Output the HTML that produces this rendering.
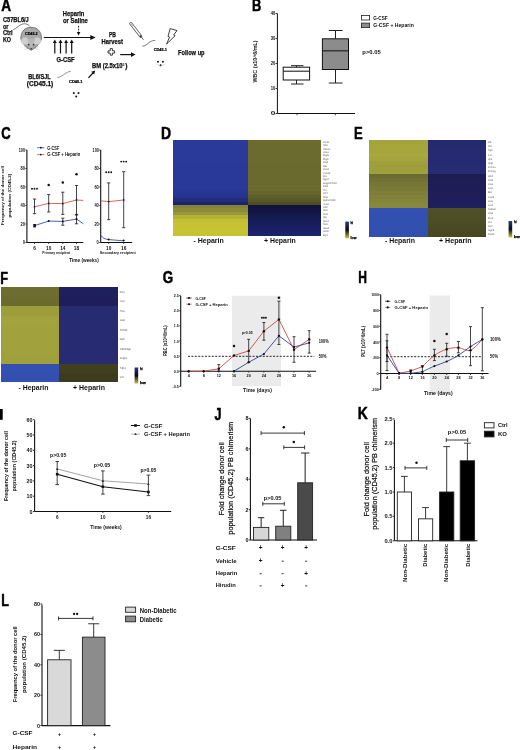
<!DOCTYPE html>
<html><head><meta charset="utf-8"><style>
html,body{margin:0;padding:0;background:#fff;}
svg{display:block;font-family:"Liberation Sans", sans-serif;will-change:transform;}
</style></head><body>
<svg width="520" height="750" viewBox="0 0 520 750" font-family='"Liberation Sans", sans-serif' fill="#111">
<rect width="520" height="750" fill="#fff"/>
<text x="1.15" y="11.4" font-size="16" font-weight="bold" textLength="9.8" lengthAdjust="spacingAndGlyphs" stroke="#000" stroke-width="0.5" fill="#000">A</text>
<text x="2.9" y="22.1" font-size="6.6" font-weight="bold" textLength="25.9" lengthAdjust="spacingAndGlyphs" stroke="#111" stroke-width="0.25">C57BL6/J</text>
<text x="2.9" y="28.6" font-size="6.6" font-weight="bold" textLength="5.6" lengthAdjust="spacingAndGlyphs" stroke="#111" stroke-width="0.25">or</text>
<text x="2.9" y="35.2" font-size="6.6" font-weight="bold" textLength="9.8" lengthAdjust="spacingAndGlyphs" stroke="#111" stroke-width="0.25">Ctrl</text>
<text x="2.9" y="41.7" font-size="6.6" font-weight="bold" textLength="8.1" lengthAdjust="spacingAndGlyphs" stroke="#111" stroke-width="0.25">KO</text>
<path d="M13.2,29.6 C16,29 18,26 21,24.6 C24,23.2 27.5,23.5 30,26.5" fill="none" stroke="#444" stroke-width="0.7"/>
<path d="M31,27.3 C37.5,27.3 41.3,31.5 41.5,38 C41.5,42.5 36,47.5 31.2,50.3 C26.2,47.5 20.8,42.5 20.8,38 C21,31.5 24.8,27.3 31,27.3 Z" fill="#a9a9a9" stroke="#555" stroke-width="0.7"/>
<ellipse cx="25" cy="41" rx="3.8" ry="3.6" fill="#cfcfcf"/>
<ellipse cx="37.2" cy="41" rx="3.8" ry="3.6" fill="#cfcfcf"/>
<path d="M27,39 L31.2,48 L35.4,39 Z" fill="#b8b8b8"/>
<circle cx="28.80" cy="44.80" r="0.8" fill="#222"/>
<circle cx="33.60" cy="44.80" r="0.8" fill="#222"/>
<circle cx="31.20" cy="48.80" r="0.8" fill="#222"/>
<line x1="28" y1="47.5" x2="24" y2="46.6" stroke="#666" stroke-width="0.3"/>
<line x1="28" y1="48" x2="24.5" y2="49.5" stroke="#666" stroke-width="0.3"/>
<line x1="34.5" y1="47.5" x2="38.5" y2="46.6" stroke="#666" stroke-width="0.3"/>
<line x1="34.5" y1="48" x2="38" y2="49.5" stroke="#666" stroke-width="0.3"/>
<text x="31.3" y="35.1" font-size="4.0" font-weight="bold" text-anchor="middle" textLength="12.6" lengthAdjust="spacingAndGlyphs" fill="#000" stroke="#000" stroke-width="0.2">CD45.2</text>
<line x1="43.8" y1="37.5" x2="92" y2="37.5" stroke="#111" stroke-width="1.2"/>
<path d="M90.3,34.9 L95.6,37.5 L90.3,40.1 Z" fill="#111"/>
<text x="62.8" y="16.4" font-size="6.6" font-weight="bold" textLength="21.6" lengthAdjust="spacingAndGlyphs" stroke="#111" stroke-width="0.25">Heparin</text>
<text x="63.0" y="23.4" font-size="6.6" font-weight="bold" textLength="24.9" lengthAdjust="spacingAndGlyphs" stroke="#111" stroke-width="0.25">or Saline</text>
<line x1="78.6" y1="25.8" x2="78.6" y2="32.4" stroke="#111" stroke-width="0.9" stroke-dasharray="1.8,1.1"/>
<path d="M76.8,32.0 L78.6,35.6 L80.4,32.0 Z" fill="#111"/>
<line x1="54.8" y1="42" x2="54.8" y2="53.5" stroke="#111" stroke-width="1.2"/>
<path d="M52.8,43.0 L54.8,39.5 L56.8,43.0 Z" fill="#111"/>
<line x1="60.5" y1="42" x2="60.5" y2="53.5" stroke="#111" stroke-width="1.2"/>
<path d="M58.5,43.0 L60.5,39.5 L62.5,43.0 Z" fill="#111"/>
<line x1="66.1" y1="42" x2="66.1" y2="53.5" stroke="#111" stroke-width="1.2"/>
<path d="M64.1,43.0 L66.1,39.5 L68.1,43.0 Z" fill="#111"/>
<line x1="71.7" y1="42" x2="71.7" y2="53.5" stroke="#111" stroke-width="1.2"/>
<path d="M69.7,43.0 L71.7,39.5 L73.7,43.0 Z" fill="#111"/>
<text x="56.5" y="61.8" font-size="6.6" font-weight="bold" textLength="18.1" lengthAdjust="spacingAndGlyphs" stroke="#111" stroke-width="0.25">G-CSF</text>
<text x="28.3" y="79.0" font-size="6.6" font-weight="bold" textLength="22.4" lengthAdjust="spacingAndGlyphs" stroke="#111" stroke-width="0.25">BL6/SJL</text>
<text x="26.8" y="85.9" font-size="6.6" font-weight="bold" textLength="26.5" lengthAdjust="spacingAndGlyphs" stroke="#111" stroke-width="0.25">(CD45.1)</text>
<path d="M57.3,77.6 C60,77.5 63,75 66,73 C68,71.8 69.5,71.5 70.8,71.5" fill="none" stroke="#888" stroke-width="0.9"/>
<text x="75.8" y="82.5" font-size="4.0" font-weight="bold" text-anchor="middle" textLength="13.6" lengthAdjust="spacingAndGlyphs" fill="#000" stroke="#000" stroke-width="0.2">CD45.1</text>
<circle cx="73.80" cy="93.10" r="1.05" fill="#222"/>
<circle cx="78.50" cy="93.10" r="1.05" fill="#222"/>
<circle cx="76.20" cy="96.50" r="1.0" fill="#111"/>
<line x1="88.4" y1="77.8" x2="93.0" y2="73.0" stroke="#111" stroke-width="1.2"/>
<path d="M91.2,71.7 L95.2,70.6 L94.2,74.6 Z" fill="#111"/>
<text x="109.0" y="36.6" font-size="6.6" font-weight="bold" textLength="7.0" lengthAdjust="spacingAndGlyphs" stroke="#111" stroke-width="0.25">PB</text>
<text x="101.5" y="43.6" font-size="6.6" font-weight="bold" textLength="21.4" lengthAdjust="spacingAndGlyphs" stroke="#111" stroke-width="0.25">Harvest</text>
<path d="M110.2,48.6 h2.2 v2.2 h2.2 v2.2 h-2.2 v2.2 h-2.2 v-2.2 h-2.2 v-2.2 h2.2 Z" fill="#fff" stroke="#111" stroke-width="0.8"/>
<line x1="120.2" y1="54.6" x2="132.5" y2="54.6" stroke="#111" stroke-width="1.2"/>
<path d="M131.0,52.3 L135.6,54.6 L131.0,56.9 Z" fill="#111"/>
<text x="92.0" y="68.3" font-size="6.6" font-weight="bold" textLength="30.5" lengthAdjust="spacingAndGlyphs" stroke="#111" stroke-width="0.25">BM (2.5x10</text>
<text x="122.6" y="65.6" font-size="3.6" font-weight="bold">5</text>
<text x="125.2" y="68.3" font-size="6.6" font-weight="bold" stroke="#111" stroke-width="0.25">)</text>
<line x1="130.8" y1="23.5" x2="140.8" y2="36.3" stroke="#555" stroke-width="3.0" stroke-linecap="round"/>
<line x1="130.8" y1="23.5" x2="140.8" y2="36.3" stroke="#f6f6f6" stroke-width="1.6" stroke-linecap="round"/>
<line x1="131.0" y1="23.6" x2="132.8" y2="26.0" stroke="#bbb" stroke-width="1.6"/>
<line x1="140.4" y1="35.8" x2="143.5" y2="39.8" stroke="#333" stroke-width="0.7"/>
<circle cx="140.60" cy="36.10" r="0.9" fill="#222"/>
<path d="M142.3,46.2 C145,46.5 147,44 149.5,42.3 C151.5,41 153.5,40.3 155.2,40.4" fill="none" stroke="#555" stroke-width="0.8"/>
<text x="160.3" y="51.1" font-size="4.0" font-weight="bold" text-anchor="middle" textLength="13.3" lengthAdjust="spacingAndGlyphs" fill="#000" stroke="#000" stroke-width="0.2">CD45.1</text>
<circle cx="158.00" cy="61.70" r="1.05" fill="#222"/>
<circle cx="162.90" cy="61.70" r="1.05" fill="#222"/>
<circle cx="160.60" cy="65.20" r="1.0" fill="#111"/>
<path d="M156,63.5 C157.5,64.7 159,65.6 160.6,65.8 C162.3,65.6 163.8,64.7 165.2,63.5" fill="none" stroke="#aaa" stroke-width="0.4"/>
<path d="M170.2,28.6 L177.0,30.6 L173.6,35.0 L175.2,35.6 L166.6,44.0 L169.6,37.0 L168.0,36.4 Z" fill="#fff" stroke="#111" stroke-width="0.8" stroke-linejoin="miter"/>
<text x="178.0" y="54.9" font-size="7.0" font-weight="bold" textLength="26.6" lengthAdjust="spacingAndGlyphs" stroke="#111" stroke-width="0.25">Follow up</text>
<text x="252.0" y="11.2" font-size="16" font-weight="bold" textLength="9.3" lengthAdjust="spacingAndGlyphs" stroke="#000" stroke-width="0.5" fill="#000">B</text>
<line x1="277.4" y1="13.5" x2="277.4" y2="113.5" stroke="#111" stroke-width="1.0"/>
<line x1="277.4" y1="113.5" x2="355" y2="113.5" stroke="#111" stroke-width="1.0"/>
<line x1="275.59999999999997" y1="113.5" x2="277.4" y2="113.5" stroke="#222" stroke-width="0.9"/>
<text x="275.4" y="115.2" font-size="4.8" font-weight="bold" text-anchor="end" textLength="4.6" lengthAdjust="spacingAndGlyphs">0</text>
<line x1="275.59999999999997" y1="88.5" x2="277.4" y2="88.5" stroke="#222" stroke-width="0.9"/>
<text x="275.4" y="90.2" font-size="4.8" font-weight="bold" text-anchor="end" textLength="4.6" lengthAdjust="spacingAndGlyphs">10</text>
<line x1="275.59999999999997" y1="63.5" x2="277.4" y2="63.5" stroke="#222" stroke-width="0.9"/>
<text x="275.4" y="65.2" font-size="4.8" font-weight="bold" text-anchor="end" textLength="4.6" lengthAdjust="spacingAndGlyphs">20</text>
<line x1="275.59999999999997" y1="38.5" x2="277.4" y2="38.5" stroke="#222" stroke-width="0.9"/>
<text x="275.4" y="40.2" font-size="4.8" font-weight="bold" text-anchor="end" textLength="4.6" lengthAdjust="spacingAndGlyphs">30</text>
<line x1="275.59999999999997" y1="13.5" x2="277.4" y2="13.5" stroke="#222" stroke-width="0.9"/>
<text x="275.4" y="15.2" font-size="4.8" font-weight="bold" text-anchor="end" textLength="4.6" lengthAdjust="spacingAndGlyphs">40</text>
<line x1="297" y1="113.5" x2="297" y2="115.3" stroke="#222" stroke-width="0.8"/>
<line x1="335.4" y1="113.5" x2="335.4" y2="115.3" stroke="#222" stroke-width="0.8"/>
<text x="256.6" y="61.5" font-size="4.6" font-weight="bold" text-anchor="middle" textLength="42" lengthAdjust="spacingAndGlyphs" transform="rotate(-90 256.6 61.5)">WBC (x10^6/mL)</text>
<line x1="296.5" y1="65.7" x2="296.5" y2="67.2" stroke="#222" stroke-width="1.0"/>
<line x1="291" y1="65.7" x2="303.5" y2="65.7" stroke="#222" stroke-width="1.0"/>
<rect x="283.20" y="67.20" width="26.40" height="12.80" fill="#ffffff" stroke="#111" stroke-width="1.0"/>
<line x1="283.2" y1="71.2" x2="309.6" y2="71.2" stroke="#222" stroke-width="1.1"/>
<line x1="296.5" y1="80" x2="296.5" y2="84" stroke="#222" stroke-width="1.0"/>
<line x1="291" y1="84" x2="303.5" y2="84" stroke="#222" stroke-width="1.0"/>
<line x1="335.5" y1="30.5" x2="335.5" y2="38.8" stroke="#222" stroke-width="1.0"/>
<line x1="328.8" y1="30.5" x2="342.6" y2="30.5" stroke="#222" stroke-width="1.0"/>
<rect x="322.40" y="38.80" width="26.10" height="30.70" fill="#8c8c8c" stroke="#111" stroke-width="1.0"/>
<line x1="322.4" y1="50.8" x2="348.5" y2="50.8" stroke="#222" stroke-width="1.2"/>
<line x1="335.5" y1="69.5" x2="335.5" y2="83" stroke="#222" stroke-width="1.0"/>
<line x1="328.8" y1="83" x2="342.6" y2="83" stroke="#222" stroke-width="1.0"/>
<text x="362.3" y="54.3" font-size="5.6" font-weight="bold" textLength="18.5" lengthAdjust="spacingAndGlyphs">p&gt;0.05</text>
<rect x="361.40" y="15.50" width="8.20" height="4.50" fill="#fff" stroke="#222" stroke-width="0.8"/>
<rect x="361.40" y="23.10" width="8.20" height="4.50" fill="#8c8c8c" stroke="#222" stroke-width="0.8"/>
<text x="373.2" y="19.5" font-size="5.4" font-weight="bold" textLength="14.5" lengthAdjust="spacingAndGlyphs">G-CSF</text>
<text x="373.2" y="27.3" font-size="5.4" font-weight="bold" textLength="40.6" lengthAdjust="spacingAndGlyphs">G-CSF + Heparin</text>
<text x="1.2" y="138.8" font-size="16" font-weight="bold" textLength="9.4" lengthAdjust="spacingAndGlyphs" stroke="#000" stroke-width="0.5" fill="#000">C</text>
<line x1="26.9" y1="150" x2="26.9" y2="242.5" stroke="#111" stroke-width="1.1"/>
<line x1="26.9" y1="242.5" x2="83.3" y2="242.5" stroke="#111" stroke-width="1.1"/>
<line x1="25.4" y1="242.5" x2="26.9" y2="242.5" stroke="#222" stroke-width="0.9"/>
<text x="25.0" y="244.1" font-size="4.6" font-weight="bold" text-anchor="end" textLength="2.2" lengthAdjust="spacingAndGlyphs">0</text>
<line x1="25.4" y1="224.0" x2="26.9" y2="224.0" stroke="#222" stroke-width="0.9"/>
<text x="25.0" y="225.6" font-size="4.6" font-weight="bold" text-anchor="end" textLength="4.4" lengthAdjust="spacingAndGlyphs">20</text>
<line x1="25.4" y1="205.5" x2="26.9" y2="205.5" stroke="#222" stroke-width="0.9"/>
<text x="25.0" y="207.1" font-size="4.6" font-weight="bold" text-anchor="end" textLength="4.4" lengthAdjust="spacingAndGlyphs">40</text>
<line x1="25.4" y1="187.0" x2="26.9" y2="187.0" stroke="#222" stroke-width="0.9"/>
<text x="25.0" y="188.6" font-size="4.6" font-weight="bold" text-anchor="end" textLength="4.4" lengthAdjust="spacingAndGlyphs">60</text>
<line x1="25.4" y1="168.5" x2="26.9" y2="168.5" stroke="#222" stroke-width="0.9"/>
<text x="25.0" y="170.1" font-size="4.6" font-weight="bold" text-anchor="end" textLength="4.4" lengthAdjust="spacingAndGlyphs">80</text>
<line x1="25.4" y1="150.0" x2="26.9" y2="150.0" stroke="#222" stroke-width="0.9"/>
<text x="25.0" y="151.6" font-size="4.6" font-weight="bold" text-anchor="end" textLength="6.2" lengthAdjust="spacingAndGlyphs">100</text>
<line x1="100.7" y1="150" x2="100.7" y2="242.5" stroke="#111" stroke-width="1.1"/>
<line x1="100.7" y1="242.5" x2="132.2" y2="242.5" stroke="#111" stroke-width="1.1"/>
<line x1="99.2" y1="242.5" x2="100.7" y2="242.5" stroke="#222" stroke-width="0.9"/>
<text x="98.8" y="244.1" font-size="4.6" font-weight="bold" text-anchor="end" textLength="2.2" lengthAdjust="spacingAndGlyphs">0</text>
<line x1="99.2" y1="224.0" x2="100.7" y2="224.0" stroke="#222" stroke-width="0.9"/>
<text x="98.8" y="225.6" font-size="4.6" font-weight="bold" text-anchor="end" textLength="4.4" lengthAdjust="spacingAndGlyphs">20</text>
<line x1="99.2" y1="205.5" x2="100.7" y2="205.5" stroke="#222" stroke-width="0.9"/>
<text x="98.8" y="207.1" font-size="4.6" font-weight="bold" text-anchor="end" textLength="4.4" lengthAdjust="spacingAndGlyphs">40</text>
<line x1="99.2" y1="187.0" x2="100.7" y2="187.0" stroke="#222" stroke-width="0.9"/>
<text x="98.8" y="188.6" font-size="4.6" font-weight="bold" text-anchor="end" textLength="4.4" lengthAdjust="spacingAndGlyphs">60</text>
<line x1="99.2" y1="168.5" x2="100.7" y2="168.5" stroke="#222" stroke-width="0.9"/>
<text x="98.8" y="170.1" font-size="4.6" font-weight="bold" text-anchor="end" textLength="4.4" lengthAdjust="spacingAndGlyphs">80</text>
<line x1="99.2" y1="150.0" x2="100.7" y2="150.0" stroke="#222" stroke-width="0.9"/>
<text x="98.8" y="151.6" font-size="4.6" font-weight="bold" text-anchor="end" textLength="6.2" lengthAdjust="spacingAndGlyphs">100</text>
<line x1="34.5" y1="242.5" x2="34.5" y2="244.0" stroke="#222" stroke-width="0.8"/>
<text x="34.5" y="249.6" font-size="4.8" font-weight="bold" text-anchor="middle">6</text>
<line x1="48.7" y1="242.5" x2="48.7" y2="244.0" stroke="#222" stroke-width="0.8"/>
<text x="48.7" y="249.6" font-size="4.8" font-weight="bold" text-anchor="middle">10</text>
<line x1="62.8" y1="242.5" x2="62.8" y2="244.0" stroke="#222" stroke-width="0.8"/>
<text x="62.8" y="249.6" font-size="4.8" font-weight="bold" text-anchor="middle">14</text>
<line x1="76.5" y1="242.5" x2="76.5" y2="244.0" stroke="#222" stroke-width="0.8"/>
<text x="76.5" y="249.6" font-size="4.8" font-weight="bold" text-anchor="middle">18</text>
<line x1="108.7" y1="242.5" x2="108.7" y2="244.0" stroke="#222" stroke-width="0.8"/>
<text x="108.7" y="249.6" font-size="4.8" font-weight="bold" text-anchor="middle">10</text>
<line x1="123.7" y1="242.5" x2="123.7" y2="244.0" stroke="#222" stroke-width="0.8"/>
<text x="123.7" y="249.6" font-size="4.8" font-weight="bold" text-anchor="middle">16</text>
<text x="56.3" y="253.7" font-size="3.8" font-weight="bold" text-anchor="middle" textLength="27.9" lengthAdjust="spacingAndGlyphs">Primary recipient</text>
<text x="117.8" y="253.7" font-size="3.8" font-weight="bold" text-anchor="middle" textLength="36" lengthAdjust="spacingAndGlyphs">Secondary recipient</text>
<text x="84" y="262.2" font-size="5.6" font-weight="bold" text-anchor="middle" textLength="29.7" lengthAdjust="spacingAndGlyphs">Time (weeks)</text>
<text x="4.4" y="195.6" font-size="4.3" font-weight="bold" text-anchor="middle" textLength="59" lengthAdjust="spacingAndGlyphs" transform="rotate(-90 4.4 195.6)">Frequency of the donor cell</text>
<text x="11.4" y="195.6" font-size="4.3" font-weight="bold" text-anchor="middle" textLength="44" lengthAdjust="spacingAndGlyphs" transform="rotate(-90 11.4 195.6)">population (CD45.2)</text>
<polyline points="34.50,206.80 48.70,203.40 62.80,203.60 76.50,200.00 83.30,200.40" fill="none" stroke="#d9534f" stroke-width="0.9" stroke-linejoin="round"/>
<polyline points="100.70,200.80 108.70,201.60 123.70,200.00" fill="none" stroke="#d9534f" stroke-width="0.9" stroke-linejoin="round"/>
<polyline points="34.50,225.60 48.70,221.10 62.80,221.40 76.50,219.10 83.30,223.80" fill="none" stroke="#3b4ea8" stroke-width="0.9" stroke-linejoin="round"/>
<path d="M100.7,235.2 C102.5,238 105,239.3 108.7,239.6 L123.7,240.8" fill="none" stroke="#3b4ea8" stroke-width="0.9"/>
<line x1="34.5" y1="199" x2="34.5" y2="213.7" stroke="#161616" stroke-width="0.8"/>
<line x1="32.9" y1="199" x2="36.1" y2="199" stroke="#161616" stroke-width="0.8"/>
<line x1="32.9" y1="213.7" x2="36.1" y2="213.7" stroke="#161616" stroke-width="0.8"/>
<line x1="48.7" y1="194.6" x2="48.7" y2="212" stroke="#161616" stroke-width="0.8"/>
<line x1="47.1" y1="194.6" x2="50.300000000000004" y2="194.6" stroke="#161616" stroke-width="0.8"/>
<line x1="47.1" y1="212" x2="50.300000000000004" y2="212" stroke="#161616" stroke-width="0.8"/>
<line x1="62.8" y1="192.2" x2="62.8" y2="214.4" stroke="#161616" stroke-width="0.8"/>
<line x1="61.199999999999996" y1="192.2" x2="64.39999999999999" y2="192.2" stroke="#161616" stroke-width="0.8"/>
<line x1="61.199999999999996" y1="214.4" x2="64.39999999999999" y2="214.4" stroke="#161616" stroke-width="0.8"/>
<line x1="76.5" y1="185.5" x2="76.5" y2="215" stroke="#161616" stroke-width="0.8"/>
<line x1="74.9" y1="185.5" x2="78.1" y2="185.5" stroke="#161616" stroke-width="0.8"/>
<line x1="74.9" y1="215" x2="78.1" y2="215" stroke="#161616" stroke-width="0.8"/>
<line x1="62.8" y1="218.2" x2="62.8" y2="225.2" stroke="#161616" stroke-width="0.8"/>
<line x1="61.199999999999996" y1="218.2" x2="64.39999999999999" y2="218.2" stroke="#161616" stroke-width="0.8"/>
<line x1="61.199999999999996" y1="225.2" x2="64.39999999999999" y2="225.2" stroke="#161616" stroke-width="0.8"/>
<line x1="76.5" y1="214.4" x2="76.5" y2="223.8" stroke="#161616" stroke-width="0.8"/>
<line x1="74.9" y1="214.4" x2="78.1" y2="214.4" stroke="#161616" stroke-width="0.8"/>
<line x1="74.9" y1="223.8" x2="78.1" y2="223.8" stroke="#161616" stroke-width="0.8"/>
<line x1="108.7" y1="182.9" x2="108.7" y2="219.7" stroke="#161616" stroke-width="0.8"/>
<line x1="107.10000000000001" y1="182.9" x2="110.3" y2="182.9" stroke="#161616" stroke-width="0.8"/>
<line x1="107.10000000000001" y1="219.7" x2="110.3" y2="219.7" stroke="#161616" stroke-width="0.8"/>
<line x1="123.7" y1="171.7" x2="123.7" y2="227.7" stroke="#161616" stroke-width="0.8"/>
<line x1="122.10000000000001" y1="171.7" x2="125.3" y2="171.7" stroke="#161616" stroke-width="0.8"/>
<line x1="122.10000000000001" y1="227.7" x2="125.3" y2="227.7" stroke="#161616" stroke-width="0.8"/>
<circle cx="34.50" cy="206.80" r="0.9" fill="#222"/>
<circle cx="48.70" cy="203.40" r="0.9" fill="#222"/>
<circle cx="62.80" cy="203.60" r="0.9" fill="#222"/>
<circle cx="76.50" cy="200.00" r="0.9" fill="#222"/>
<circle cx="108.70" cy="201.60" r="0.9" fill="#222"/>
<circle cx="123.70" cy="200.00" r="0.9" fill="#222"/>
<circle cx="48.70" cy="221.10" r="1.0" fill="#111"/>
<circle cx="62.80" cy="221.40" r="1.0" fill="#111"/>
<circle cx="76.50" cy="219.10" r="1.0" fill="#111"/>
<circle cx="108.70" cy="239.60" r="1.0" fill="#111"/>
<circle cx="123.70" cy="240.60" r="1.0" fill="#111"/>
<rect x="33.30" y="224.00" width="2.60" height="3.40" fill="#111"/>
<circle cx="32.00" cy="188.80" r="0.95" fill="#111"/>
<circle cx="34.50" cy="188.80" r="0.95" fill="#111"/>
<circle cx="37.00" cy="188.80" r="0.95" fill="#111"/>
<circle cx="48.70" cy="185.00" r="1.25" fill="#111"/>
<circle cx="62.80" cy="182.40" r="1.25" fill="#111"/>
<circle cx="76.50" cy="174.30" r="1.25" fill="#111"/>
<circle cx="106.20" cy="172.30" r="0.95" fill="#111"/>
<circle cx="108.70" cy="172.30" r="0.95" fill="#111"/>
<circle cx="111.20" cy="172.30" r="0.95" fill="#111"/>
<circle cx="121.20" cy="161.60" r="0.95" fill="#111"/>
<circle cx="123.70" cy="161.60" r="0.95" fill="#111"/>
<circle cx="126.20" cy="161.60" r="0.95" fill="#111"/>
<line x1="37" y1="147.7" x2="44.4" y2="147.7" stroke="#3b4ea8" stroke-width="0.8"/>
<circle cx="40.80" cy="147.70" r="0.9" fill="#111"/>
<line x1="37" y1="154.6" x2="44.4" y2="154.6" stroke="#d9534f" stroke-width="0.8"/>
<circle cx="40.80" cy="154.60" r="0.9" fill="#111"/>
<text x="47.3" y="149.5" font-size="4.6" font-weight="bold" textLength="12" lengthAdjust="spacingAndGlyphs">G-CSF</text>
<text x="47.3" y="156.4" font-size="4.6" font-weight="bold" textLength="33" lengthAdjust="spacingAndGlyphs">G-CSF + Heparin</text>
<text x="160.95" y="138.5" font-size="16" font-weight="bold" textLength="10.1" lengthAdjust="spacingAndGlyphs" stroke="#000" stroke-width="0.5" fill="#000">D</text>
<rect x="173.00" y="140.00" width="74.70" height="3.42" fill="#2a3a9a" shape-rendering="crispEdges"/>
<rect x="173.00" y="143.42" width="74.70" height="3.42" fill="#2a3a9a" shape-rendering="crispEdges"/>
<rect x="173.00" y="146.84" width="74.70" height="3.42" fill="#2a3a9a" shape-rendering="crispEdges"/>
<rect x="173.00" y="150.26" width="74.70" height="3.42" fill="#2a3a9a" shape-rendering="crispEdges"/>
<rect x="173.00" y="153.68" width="74.70" height="3.42" fill="#2a3a9a" shape-rendering="crispEdges"/>
<rect x="173.00" y="157.11" width="74.70" height="3.42" fill="#2a3a9a" shape-rendering="crispEdges"/>
<rect x="173.00" y="160.53" width="74.70" height="3.42" fill="#2a3a9a" shape-rendering="crispEdges"/>
<rect x="173.00" y="163.95" width="74.70" height="3.42" fill="#29399a" shape-rendering="crispEdges"/>
<rect x="173.00" y="167.37" width="74.70" height="3.42" fill="#29399a" shape-rendering="crispEdges"/>
<rect x="173.00" y="170.79" width="74.70" height="3.42" fill="#29399a" shape-rendering="crispEdges"/>
<rect x="173.00" y="174.21" width="74.70" height="3.42" fill="#29399a" shape-rendering="crispEdges"/>
<rect x="173.00" y="177.63" width="74.70" height="3.42" fill="#29399a" shape-rendering="crispEdges"/>
<rect x="173.00" y="181.05" width="74.70" height="3.42" fill="#29399a" shape-rendering="crispEdges"/>
<rect x="173.00" y="184.47" width="74.70" height="3.42" fill="#29399a" shape-rendering="crispEdges"/>
<rect x="173.00" y="187.89" width="74.70" height="3.42" fill="#293898" shape-rendering="crispEdges"/>
<rect x="173.00" y="191.32" width="74.70" height="3.42" fill="#273592" shape-rendering="crispEdges"/>
<rect x="173.00" y="194.74" width="74.70" height="3.42" fill="#25338b" shape-rendering="crispEdges"/>
<rect x="173.00" y="198.16" width="74.70" height="3.42" fill="#212c7c" shape-rendering="crispEdges"/>
<rect x="173.00" y="201.58" width="74.70" height="3.42" fill="#1c2469" shape-rendering="crispEdges"/>
<rect x="247.70" y="140.00" width="73.30" height="3.42" fill="#6b6b30" shape-rendering="crispEdges"/>
<rect x="247.70" y="143.42" width="73.30" height="3.42" fill="#6b6b30" shape-rendering="crispEdges"/>
<rect x="247.70" y="146.84" width="73.30" height="3.42" fill="#6b6b30" shape-rendering="crispEdges"/>
<rect x="247.70" y="150.26" width="73.30" height="3.42" fill="#6b6b30" shape-rendering="crispEdges"/>
<rect x="247.70" y="153.68" width="73.30" height="3.42" fill="#6b6b30" shape-rendering="crispEdges"/>
<rect x="247.70" y="157.11" width="73.30" height="3.42" fill="#6b6b30" shape-rendering="crispEdges"/>
<rect x="247.70" y="160.53" width="73.30" height="3.42" fill="#6b6b30" shape-rendering="crispEdges"/>
<rect x="247.70" y="163.95" width="73.30" height="3.42" fill="#6a6a2f" shape-rendering="crispEdges"/>
<rect x="247.70" y="167.37" width="73.30" height="3.42" fill="#6a6a2f" shape-rendering="crispEdges"/>
<rect x="247.70" y="170.79" width="73.30" height="3.42" fill="#6a6a2f" shape-rendering="crispEdges"/>
<rect x="247.70" y="174.21" width="73.30" height="3.42" fill="#6a6a2f" shape-rendering="crispEdges"/>
<rect x="247.70" y="177.63" width="73.30" height="3.42" fill="#6a6a2f" shape-rendering="crispEdges"/>
<rect x="247.70" y="181.05" width="73.30" height="3.42" fill="#6a6a2f" shape-rendering="crispEdges"/>
<rect x="247.70" y="184.47" width="73.30" height="3.42" fill="#6a6a2f" shape-rendering="crispEdges"/>
<rect x="247.70" y="187.89" width="73.30" height="3.42" fill="#69692e" shape-rendering="crispEdges"/>
<rect x="247.70" y="191.32" width="73.30" height="3.42" fill="#64642c" shape-rendering="crispEdges"/>
<rect x="247.70" y="194.74" width="73.30" height="3.42" fill="#5f5f2a" shape-rendering="crispEdges"/>
<rect x="247.70" y="198.16" width="73.30" height="3.42" fill="#575727" shape-rendering="crispEdges"/>
<rect x="247.70" y="201.58" width="73.30" height="3.42" fill="#4e4e24" shape-rendering="crispEdges"/>
<rect x="173.00" y="205.00" width="74.70" height="3.49" fill="#84843a" shape-rendering="crispEdges"/>
<rect x="173.00" y="208.49" width="74.70" height="3.49" fill="#8c8c3b" shape-rendering="crispEdges"/>
<rect x="173.00" y="211.98" width="74.70" height="3.49" fill="#98983a" shape-rendering="crispEdges"/>
<rect x="173.00" y="215.47" width="74.70" height="3.49" fill="#b4b236" shape-rendering="crispEdges"/>
<rect x="173.00" y="218.96" width="74.70" height="3.49" fill="#c4c033" shape-rendering="crispEdges"/>
<rect x="173.00" y="222.44" width="74.70" height="3.49" fill="#c6c232" shape-rendering="crispEdges"/>
<rect x="173.00" y="225.93" width="74.70" height="3.49" fill="#c7c332" shape-rendering="crispEdges"/>
<rect x="173.00" y="229.42" width="74.70" height="3.49" fill="#c7c332" shape-rendering="crispEdges"/>
<rect x="173.00" y="232.91" width="74.70" height="3.49" fill="#c6c232" shape-rendering="crispEdges"/>
<rect x="247.70" y="205.00" width="73.30" height="3.49" fill="#10133b" shape-rendering="crispEdges"/>
<rect x="247.70" y="208.49" width="73.30" height="3.49" fill="#121542" shape-rendering="crispEdges"/>
<rect x="247.70" y="211.98" width="73.30" height="3.49" fill="#131849" shape-rendering="crispEdges"/>
<rect x="247.70" y="215.47" width="73.30" height="3.49" fill="#151a4f" shape-rendering="crispEdges"/>
<rect x="247.70" y="218.96" width="73.30" height="3.49" fill="#161c55" shape-rendering="crispEdges"/>
<rect x="247.70" y="222.44" width="73.30" height="3.49" fill="#171e5b" shape-rendering="crispEdges"/>
<rect x="247.70" y="225.93" width="73.30" height="3.49" fill="#191f61" shape-rendering="crispEdges"/>
<rect x="247.70" y="229.42" width="73.30" height="3.49" fill="#1a2167" shape-rendering="crispEdges"/>
<rect x="247.70" y="232.91" width="73.30" height="3.49" fill="#1b236d" shape-rendering="crispEdges"/>
<text x="322.90000000000003" y="142.62142857142857" font-size="2.6" textLength="6.2" lengthAdjust="spacingAndGlyphs" fill="#555" text-rendering="geometricPrecision">Ccnd1</text>
<text x="322.90000000000003" y="146.06428571428572" font-size="2.6" textLength="5.0" lengthAdjust="spacingAndGlyphs" fill="#555" text-rendering="geometricPrecision">Sdf1</text>
<text x="322.90000000000003" y="149.50714285714287" font-size="2.6" textLength="7.5" lengthAdjust="spacingAndGlyphs" fill="#555" text-rendering="geometricPrecision">Cdkn1a</text>
<text x="322.90000000000003" y="152.95" font-size="2.6" textLength="6.2" lengthAdjust="spacingAndGlyphs" fill="#555" text-rendering="geometricPrecision">Hmox1</text>
<text x="322.90000000000003" y="156.39285714285714" font-size="2.6" textLength="6.2" lengthAdjust="spacingAndGlyphs" fill="#555" text-rendering="geometricPrecision">Ptgds</text>
<text x="322.90000000000003" y="159.8357142857143" font-size="2.6" textLength="6.2" lengthAdjust="spacingAndGlyphs" fill="#555" text-rendering="geometricPrecision">Ptger</text>
<text x="322.90000000000003" y="163.2785714285714" font-size="2.6" textLength="5.0" lengthAdjust="spacingAndGlyphs" fill="#555" text-rendering="geometricPrecision">Mmp9</text>
<text x="322.90000000000003" y="166.72142857142856" font-size="2.6" textLength="3.8" lengthAdjust="spacingAndGlyphs" fill="#555" text-rendering="geometricPrecision">Il6</text>
<text x="322.90000000000003" y="170.1642857142857" font-size="2.6" textLength="6.2" lengthAdjust="spacingAndGlyphs" fill="#555" text-rendering="geometricPrecision">Vcam1</text>
<text x="322.90000000000003" y="173.60714285714286" font-size="2.6" textLength="7.5" lengthAdjust="spacingAndGlyphs" fill="#555" text-rendering="geometricPrecision">Cxcl12</text>
<text x="322.90000000000003" y="177.05" font-size="2.6" textLength="3.8" lengthAdjust="spacingAndGlyphs" fill="#555" text-rendering="geometricPrecision">Kit</text>
<text x="322.90000000000003" y="180.49285714285713" font-size="2.6" textLength="6.2" lengthAdjust="spacingAndGlyphs" fill="#555" text-rendering="geometricPrecision">Itga4</text>
<text x="322.90000000000003" y="183.93571428571428" font-size="2.6" textLength="13.8" lengthAdjust="spacingAndGlyphs" fill="#555" text-rendering="geometricPrecision">Angpt1/Tie2</text>
<text x="322.90000000000003" y="187.37857142857143" font-size="2.6" textLength="5.0" lengthAdjust="spacingAndGlyphs" fill="#555" text-rendering="geometricPrecision">Flt3</text>
<text x="322.90000000000003" y="190.82142857142856" font-size="2.6" textLength="3.8" lengthAdjust="spacingAndGlyphs" fill="#555" text-rendering="geometricPrecision">Tnf</text>
<text x="322.90000000000003" y="194.2642857142857" font-size="2.6" textLength="5.0" lengthAdjust="spacingAndGlyphs" fill="#555" text-rendering="geometricPrecision">Cd44</text>
<text x="322.90000000000003" y="197.70714285714286" font-size="2.6" textLength="5.0" lengthAdjust="spacingAndGlyphs" fill="#555" text-rendering="geometricPrecision">Selp</text>
<text x="322.90000000000003" y="201.15" font-size="2.6" textLength="12.5" lengthAdjust="spacingAndGlyphs" fill="#555" text-rendering="geometricPrecision">Itgb1/Cd29</text>
<text x="322.90000000000003" y="204.59285714285716" font-size="2.6" textLength="6.2" lengthAdjust="spacingAndGlyphs" fill="#555" text-rendering="geometricPrecision">Cxadr</text>
<text x="322.90000000000003" y="208.03571428571428" font-size="2.6" textLength="5.0" lengthAdjust="spacingAndGlyphs" fill="#555" text-rendering="geometricPrecision">Cd34</text>
<text x="322.90000000000003" y="211.47857142857143" font-size="2.6" textLength="5.0" lengthAdjust="spacingAndGlyphs" fill="#555" text-rendering="geometricPrecision">Gfi1</text>
<text x="322.90000000000003" y="214.92142857142858" font-size="2.6" textLength="5.0" lengthAdjust="spacingAndGlyphs" fill="#555" text-rendering="geometricPrecision">Lmo2</text>
<text x="322.90000000000003" y="218.3642857142857" font-size="2.6" textLength="3.8" lengthAdjust="spacingAndGlyphs" fill="#555" text-rendering="geometricPrecision">Mpl</text>
<text x="322.90000000000003" y="221.80714285714285" font-size="2.6" textLength="6.2" lengthAdjust="spacingAndGlyphs" fill="#555" text-rendering="geometricPrecision">Runx1</text>
<text x="322.90000000000003" y="225.25" font-size="2.6" textLength="5.0" lengthAdjust="spacingAndGlyphs" fill="#555" text-rendering="geometricPrecision">Tal1</text>
<text x="322.90000000000003" y="228.69285714285715" font-size="2.6" textLength="6.2" lengthAdjust="spacingAndGlyphs" fill="#555" text-rendering="geometricPrecision">Gata2</text>
<text x="322.90000000000003" y="232.1357142857143" font-size="2.6" textLength="6.2" lengthAdjust="spacingAndGlyphs" fill="#555" text-rendering="geometricPrecision">Hoxb4</text>
<text x="322.90000000000003" y="235.57857142857142" font-size="2.6" textLength="5.0" lengthAdjust="spacingAndGlyphs" fill="#555" text-rendering="geometricPrecision">Egr1</text>
<defs><linearGradient id="lg345" x1="0" y1="0" x2="0" y2="1"><stop offset="0" stop-color="#2a3590"/><stop offset="0.5" stop-color="#0a0a14"/><stop offset="1" stop-color="#c8c038"/></linearGradient></defs>
<rect x="345.3" y="221.6" width="3.6" height="16.700000000000017" fill="url(#lg345)"/>
<text x="350.6" y="223.6" font-size="3.2" font-weight="bold" textLength="2.6" lengthAdjust="spacingAndGlyphs" fill="#000" stroke="#000" stroke-width="0.25">hi</text>
<text x="350.6" y="238.70000000000002" font-size="3.2" font-weight="bold" textLength="5.8" lengthAdjust="spacingAndGlyphs" fill="#000" stroke="#000" stroke-width="0.25">low</text>
<text x="193.4" y="243.4" font-size="8.0" font-weight="bold" textLength="30.4" lengthAdjust="spacingAndGlyphs">- Heparin</text>
<text x="264.0" y="243.4" font-size="8.0" font-weight="bold" textLength="31.8" lengthAdjust="spacingAndGlyphs">+ Heparin</text>
<text x="354.0" y="139.2" font-size="16" font-weight="bold" textLength="8.7" lengthAdjust="spacingAndGlyphs" stroke="#000" stroke-width="0.5" fill="#000">E</text>
<rect x="368.70" y="140.00" width="59.10" height="4.19" fill="#a4a43c" shape-rendering="crispEdges"/>
<rect x="368.70" y="144.19" width="59.10" height="4.19" fill="#a6a63d" shape-rendering="crispEdges"/>
<rect x="368.70" y="148.38" width="59.10" height="4.19" fill="#a6a63d" shape-rendering="crispEdges"/>
<rect x="368.70" y="152.56" width="59.10" height="4.19" fill="#a8a83e" shape-rendering="crispEdges"/>
<rect x="368.70" y="156.75" width="59.10" height="4.19" fill="#a5a53d" shape-rendering="crispEdges"/>
<rect x="368.70" y="160.94" width="59.10" height="4.19" fill="#9f9f3b" shape-rendering="crispEdges"/>
<rect x="368.70" y="165.12" width="59.10" height="4.19" fill="#9d9d3a" shape-rendering="crispEdges"/>
<rect x="368.70" y="169.31" width="59.10" height="4.19" fill="#9f9f3c" shape-rendering="crispEdges"/>
<rect x="368.70" y="173.50" width="59.10" height="4.27" fill="#6c6c31" shape-rendering="crispEdges"/>
<rect x="368.70" y="177.78" width="59.10" height="4.27" fill="#717133" shape-rendering="crispEdges"/>
<rect x="368.70" y="182.05" width="59.10" height="4.27" fill="#757535" shape-rendering="crispEdges"/>
<rect x="368.70" y="186.32" width="59.10" height="4.27" fill="#7a7a37" shape-rendering="crispEdges"/>
<rect x="368.70" y="190.60" width="59.10" height="4.27" fill="#7e7e38" shape-rendering="crispEdges"/>
<rect x="368.70" y="194.88" width="59.10" height="4.27" fill="#818139" shape-rendering="crispEdges"/>
<rect x="368.70" y="199.15" width="59.10" height="4.27" fill="#858539" shape-rendering="crispEdges"/>
<rect x="368.70" y="203.42" width="59.10" height="4.27" fill="#88883a" shape-rendering="crispEdges"/>
<rect x="368.70" y="207.70" width="59.10" height="4.11" fill="#3350b2" shape-rendering="crispEdges"/>
<rect x="368.70" y="211.81" width="59.10" height="4.11" fill="#3250b1" shape-rendering="crispEdges"/>
<rect x="368.70" y="215.93" width="59.10" height="4.11" fill="#3250b1" shape-rendering="crispEdges"/>
<rect x="368.70" y="220.04" width="59.10" height="4.11" fill="#3250b0" shape-rendering="crispEdges"/>
<rect x="368.70" y="224.16" width="59.10" height="4.11" fill="#3150af" shape-rendering="crispEdges"/>
<rect x="368.70" y="228.27" width="59.10" height="4.11" fill="#3150af" shape-rendering="crispEdges"/>
<rect x="368.70" y="232.39" width="59.10" height="4.11" fill="#3050ae" shape-rendering="crispEdges"/>
<rect x="427.80" y="140.00" width="58.20" height="4.19" fill="#25296e" shape-rendering="crispEdges"/>
<rect x="427.80" y="144.19" width="58.20" height="4.19" fill="#252a6f" shape-rendering="crispEdges"/>
<rect x="427.80" y="148.38" width="58.20" height="4.19" fill="#262a6f" shape-rendering="crispEdges"/>
<rect x="427.80" y="152.56" width="58.20" height="4.19" fill="#262a70" shape-rendering="crispEdges"/>
<rect x="427.80" y="156.75" width="58.20" height="4.19" fill="#262b70" shape-rendering="crispEdges"/>
<rect x="427.80" y="160.94" width="58.20" height="4.19" fill="#262b71" shape-rendering="crispEdges"/>
<rect x="427.80" y="165.12" width="58.20" height="4.19" fill="#272b71" shape-rendering="crispEdges"/>
<rect x="427.80" y="169.31" width="58.20" height="4.19" fill="#272c72" shape-rendering="crispEdges"/>
<rect x="427.80" y="173.50" width="58.20" height="4.27" fill="#1d1c53" shape-rendering="crispEdges"/>
<rect x="427.80" y="177.78" width="58.20" height="4.27" fill="#1e1d54" shape-rendering="crispEdges"/>
<rect x="427.80" y="182.05" width="58.20" height="4.27" fill="#1e1d56" shape-rendering="crispEdges"/>
<rect x="427.80" y="186.32" width="58.20" height="4.27" fill="#1e1d57" shape-rendering="crispEdges"/>
<rect x="427.80" y="190.60" width="58.20" height="4.27" fill="#1f1e59" shape-rendering="crispEdges"/>
<rect x="427.80" y="194.88" width="58.20" height="4.27" fill="#1f1e5a" shape-rendering="crispEdges"/>
<rect x="427.80" y="199.15" width="58.20" height="4.27" fill="#1f1e5c" shape-rendering="crispEdges"/>
<rect x="427.80" y="203.42" width="58.20" height="4.27" fill="#201f5d" shape-rendering="crispEdges"/>
<rect x="427.80" y="207.70" width="58.20" height="4.11" fill="#505028" shape-rendering="crispEdges"/>
<rect x="427.80" y="211.81" width="58.20" height="4.11" fill="#4f4f27" shape-rendering="crispEdges"/>
<rect x="427.80" y="215.93" width="58.20" height="4.11" fill="#4d4d26" shape-rendering="crispEdges"/>
<rect x="427.80" y="220.04" width="58.20" height="4.11" fill="#4c4c25" shape-rendering="crispEdges"/>
<rect x="427.80" y="224.16" width="58.20" height="4.11" fill="#4a4a24" shape-rendering="crispEdges"/>
<rect x="427.80" y="228.27" width="58.20" height="4.11" fill="#484823" shape-rendering="crispEdges"/>
<rect x="427.80" y="232.39" width="58.20" height="4.11" fill="#474722" shape-rendering="crispEdges"/>
<text x="488.0" y="142.99782608695654" font-size="2.6" textLength="3.8" lengthAdjust="spacingAndGlyphs" fill="#555" text-rendering="geometricPrecision">Il1</text>
<text x="488.0" y="147.19347826086957" font-size="2.6" textLength="3.8" lengthAdjust="spacingAndGlyphs" fill="#555" text-rendering="geometricPrecision">Mfb</text>
<text x="488.0" y="151.38913043478263" font-size="2.6" textLength="5.0" lengthAdjust="spacingAndGlyphs" fill="#555" text-rendering="geometricPrecision">Ng1r</text>
<text x="488.0" y="155.58478260869566" font-size="2.6" textLength="3.8" lengthAdjust="spacingAndGlyphs" fill="#555" text-rendering="geometricPrecision">Ltf</text>
<text x="488.0" y="159.78043478260872" font-size="2.6" textLength="3.8" lengthAdjust="spacingAndGlyphs" fill="#555" text-rendering="geometricPrecision">Hp8</text>
<text x="488.0" y="163.97608695652175" font-size="2.6" textLength="5.0" lengthAdjust="spacingAndGlyphs" fill="#555" text-rendering="geometricPrecision">Hpgd</text>
<text x="488.0" y="168.1717391304348" font-size="2.6" textLength="7.5" lengthAdjust="spacingAndGlyphs" fill="#555" text-rendering="geometricPrecision">Fcer1a</text>
<text x="488.0" y="172.36739130434785" font-size="2.6" textLength="7.5" lengthAdjust="spacingAndGlyphs" fill="#555" text-rendering="geometricPrecision">Fcer1g</text>
<text x="488.0" y="176.56304347826088" font-size="2.6" textLength="5.0" lengthAdjust="spacingAndGlyphs" fill="#555" text-rendering="geometricPrecision">Hdc2</text>
<text x="488.0" y="180.75869565217394" font-size="2.6" textLength="5.0" lengthAdjust="spacingAndGlyphs" fill="#555" text-rendering="geometricPrecision">Cd48</text>
<text x="488.0" y="184.95434782608697" font-size="2.6" textLength="5.0" lengthAdjust="spacingAndGlyphs" fill="#555" text-rendering="geometricPrecision">Ctsk</text>
<text x="488.0" y="189.15000000000003" font-size="2.6" textLength="5.0" lengthAdjust="spacingAndGlyphs" fill="#555" text-rendering="geometricPrecision">Ly6c</text>
<text x="488.0" y="193.34565217391307" font-size="2.6" textLength="3.8" lengthAdjust="spacingAndGlyphs" fill="#555" text-rendering="geometricPrecision">Elt</text>
<text x="488.0" y="197.5413043478261" font-size="2.6" textLength="6.2" lengthAdjust="spacingAndGlyphs" fill="#555" text-rendering="geometricPrecision">Cxcl2</text>
<text x="488.0" y="201.73695652173916" font-size="2.6" textLength="5.0" lengthAdjust="spacingAndGlyphs" fill="#555" text-rendering="geometricPrecision">Camp</text>
<text x="488.0" y="205.9326086956522" font-size="2.6" textLength="5.0" lengthAdjust="spacingAndGlyphs" fill="#555" text-rendering="geometricPrecision">Lcn2</text>
<text x="488.0" y="210.12826086956522" font-size="2.6" textLength="7.5" lengthAdjust="spacingAndGlyphs" fill="#555" text-rendering="geometricPrecision">S100a8</text>
<text x="488.0" y="214.32391304347829" font-size="2.6" textLength="5.0" lengthAdjust="spacingAndGlyphs" fill="#555" text-rendering="geometricPrecision">Mmp8</text>
<text x="488.0" y="218.51956521739135" font-size="2.6" textLength="5.0" lengthAdjust="spacingAndGlyphs" fill="#555" text-rendering="geometricPrecision">Ifit</text>
<text x="488.0" y="222.71521739130435" font-size="2.6" textLength="3.8" lengthAdjust="spacingAndGlyphs" fill="#555" text-rendering="geometricPrecision">Mx1</text>
<text x="488.0" y="226.9108695652174" font-size="2.6" textLength="5.0" lengthAdjust="spacingAndGlyphs" fill="#555" text-rendering="geometricPrecision">Irf7</text>
<text x="488.0" y="231.10652173913047" font-size="2.6" textLength="6.2" lengthAdjust="spacingAndGlyphs" fill="#555" text-rendering="geometricPrecision">Isg15</text>
<text x="488.0" y="235.3021739130435" font-size="2.6" textLength="6.2" lengthAdjust="spacingAndGlyphs" fill="#555" text-rendering="geometricPrecision">Rsad2</text>
<defs><linearGradient id="lg508" x1="0" y1="0" x2="0" y2="1"><stop offset="0" stop-color="#2a3590"/><stop offset="0.5" stop-color="#0a0a14"/><stop offset="1" stop-color="#c8c038"/></linearGradient></defs>
<rect x="508.6" y="221.0" width="3.6" height="16.30000000000001" fill="url(#lg508)"/>
<text x="513.9000000000001" y="223.0" font-size="3.2" font-weight="bold" textLength="2.6" lengthAdjust="spacingAndGlyphs" fill="#000" stroke="#000" stroke-width="0.25">hi</text>
<text x="513.9000000000001" y="237.70000000000002" font-size="3.2" font-weight="bold" textLength="5.8" lengthAdjust="spacingAndGlyphs" fill="#000" stroke="#000" stroke-width="0.25">low</text>
<text x="385.0" y="243.4" font-size="8.0" font-weight="bold" textLength="30.0" lengthAdjust="spacingAndGlyphs">- Heparin</text>
<text x="439.0" y="243.4" font-size="8.0" font-weight="bold" textLength="32.5" lengthAdjust="spacingAndGlyphs">+ Heparin</text>
<text x="0.25" y="283.5" font-size="16" font-weight="bold" textLength="7.8" lengthAdjust="spacingAndGlyphs" stroke="#000" stroke-width="0.5" fill="#000">F</text>
<rect x="1.20" y="287.00" width="58.00" height="9.50" fill="#6d6d30" shape-rendering="crispEdges"/>
<rect x="1.20" y="296.50" width="58.00" height="9.50" fill="#6b6b2e" shape-rendering="crispEdges"/>
<rect x="1.20" y="306.00" width="58.00" height="9.67" fill="#9d9d3c" shape-rendering="crispEdges"/>
<rect x="1.20" y="315.67" width="58.00" height="9.67" fill="#a2a23e" shape-rendering="crispEdges"/>
<rect x="1.20" y="325.33" width="58.00" height="9.67" fill="#a1a13d" shape-rendering="crispEdges"/>
<rect x="1.20" y="335.00" width="58.00" height="9.67" fill="#a1a13d" shape-rendering="crispEdges"/>
<rect x="1.20" y="344.67" width="58.00" height="9.67" fill="#a1a13d" shape-rendering="crispEdges"/>
<rect x="1.20" y="354.33" width="58.00" height="9.67" fill="#a0a03c" shape-rendering="crispEdges"/>
<rect x="1.20" y="364.00" width="58.00" height="9.15" fill="#3451b1" shape-rendering="crispEdges"/>
<rect x="1.20" y="373.15" width="58.00" height="9.15" fill="#3350af" shape-rendering="crispEdges"/>
<rect x="59.20" y="287.00" width="58.50" height="9.50" fill="#1e1f5e" shape-rendering="crispEdges"/>
<rect x="59.20" y="296.50" width="58.50" height="9.50" fill="#1d1e5a" shape-rendering="crispEdges"/>
<rect x="59.20" y="306.00" width="58.50" height="9.67" fill="#272c72" shape-rendering="crispEdges"/>
<rect x="59.20" y="315.67" width="58.50" height="9.67" fill="#272c72" shape-rendering="crispEdges"/>
<rect x="59.20" y="325.33" width="58.50" height="9.67" fill="#272c72" shape-rendering="crispEdges"/>
<rect x="59.20" y="335.00" width="58.50" height="9.67" fill="#272c72" shape-rendering="crispEdges"/>
<rect x="59.20" y="344.67" width="58.50" height="9.67" fill="#272c72" shape-rendering="crispEdges"/>
<rect x="59.20" y="354.33" width="58.50" height="9.67" fill="#272c72" shape-rendering="crispEdges"/>
<rect x="59.20" y="364.00" width="58.50" height="9.15" fill="#404021" shape-rendering="crispEdges"/>
<rect x="59.20" y="373.15" width="58.50" height="9.15" fill="#3c3c1f" shape-rendering="crispEdges"/>
<text x="119.8" y="292.66499999999996" font-size="2.9" textLength="5.0" lengthAdjust="spacingAndGlyphs" fill="#555" text-rendering="geometricPrecision">Mmp1</text>
<text x="119.8" y="302.19499999999994" font-size="2.9" textLength="5.0" lengthAdjust="spacingAndGlyphs" fill="#555" text-rendering="geometricPrecision">Lcp2</text>
<text x="119.8" y="311.72499999999997" font-size="2.9" textLength="5.0" lengthAdjust="spacingAndGlyphs" fill="#555" text-rendering="geometricPrecision">Hhex</text>
<text x="119.8" y="321.255" font-size="2.9" textLength="5.0" lengthAdjust="spacingAndGlyphs" fill="#555" text-rendering="geometricPrecision">Lta4</text>
<text x="119.8" y="330.78499999999997" font-size="2.9" textLength="7.5" lengthAdjust="spacingAndGlyphs" fill="#555" text-rendering="geometricPrecision">Tnfrsf</text>
<text x="119.8" y="340.31499999999994" font-size="2.9" textLength="5.0" lengthAdjust="spacingAndGlyphs" fill="#555" text-rendering="geometricPrecision">Mapk</text>
<text x="119.8" y="349.84499999999997" font-size="2.9" textLength="11.2" lengthAdjust="spacingAndGlyphs" fill="#555" text-rendering="geometricPrecision">Cd44/Itgb</text>
<text x="119.8" y="359.375" font-size="2.9" textLength="7.5" lengthAdjust="spacingAndGlyphs" fill="#555" text-rendering="geometricPrecision">Angpt1</text>
<text x="119.8" y="368.905" font-size="2.9" textLength="6.2" lengthAdjust="spacingAndGlyphs" fill="#555" text-rendering="geometricPrecision">Tgfb1</text>
<text x="119.8" y="378.43499999999995" font-size="2.9" textLength="3.8" lengthAdjust="spacingAndGlyphs" fill="#555" text-rendering="geometricPrecision">Vwf</text>
<defs><linearGradient id="lg134" x1="0" y1="0" x2="0" y2="1"><stop offset="0" stop-color="#2a3590"/><stop offset="0.5" stop-color="#0a0a14"/><stop offset="1" stop-color="#c8c038"/></linearGradient></defs>
<rect x="134.6" y="367.5" width="3.6" height="16.0" fill="url(#lg134)"/>
<text x="139.89999999999998" y="369.5" font-size="3.2" font-weight="bold" textLength="2.6" lengthAdjust="spacingAndGlyphs" fill="#000" stroke="#000" stroke-width="0.25">hi</text>
<text x="139.89999999999998" y="383.9" font-size="3.2" font-weight="bold" textLength="5.8" lengthAdjust="spacingAndGlyphs" fill="#000" stroke="#000" stroke-width="0.25">low</text>
<text x="18.5" y="389.8" font-size="8.0" font-weight="bold" textLength="30.0" lengthAdjust="spacingAndGlyphs">- Heparin</text>
<text x="73.0" y="389.8" font-size="8.0" font-weight="bold" textLength="32.0" lengthAdjust="spacingAndGlyphs">+ Heparin</text>
<text x="162.7" y="283.3" font-size="16" font-weight="bold" textLength="10.4" lengthAdjust="spacingAndGlyphs" stroke="#000" stroke-width="0.5" fill="#000">G</text>
<rect x="232.00" y="295.80" width="49.00" height="90.30" fill="#ebebeb"/>
<line x1="180.7" y1="295.8" x2="180.7" y2="386.6" stroke="#111" stroke-width="1.1"/>
<line x1="179.2" y1="386.3" x2="180.7" y2="386.3" stroke="#222" stroke-width="0.9"/>
<text x="178.79999999999998" y="387.8" font-size="4.2" font-weight="bold" text-anchor="end" textLength="6.2" lengthAdjust="spacingAndGlyphs">-0.5</text>
<line x1="179.2" y1="371.2" x2="180.7" y2="371.2" stroke="#222" stroke-width="0.9"/>
<text x="178.79999999999998" y="372.7" font-size="4.2" font-weight="bold" text-anchor="end" textLength="5.0" lengthAdjust="spacingAndGlyphs">0.0</text>
<line x1="179.2" y1="356.09999999999997" x2="180.7" y2="356.09999999999997" stroke="#222" stroke-width="0.9"/>
<text x="178.79999999999998" y="357.59999999999997" font-size="4.2" font-weight="bold" text-anchor="end" textLength="5.0" lengthAdjust="spacingAndGlyphs">0.5</text>
<line x1="179.2" y1="341.0" x2="180.7" y2="341.0" stroke="#222" stroke-width="0.9"/>
<text x="178.79999999999998" y="342.5" font-size="4.2" font-weight="bold" text-anchor="end" textLength="5.0" lengthAdjust="spacingAndGlyphs">1.0</text>
<line x1="179.2" y1="325.9" x2="180.7" y2="325.9" stroke="#222" stroke-width="0.9"/>
<text x="178.79999999999998" y="327.4" font-size="4.2" font-weight="bold" text-anchor="end" textLength="5.0" lengthAdjust="spacingAndGlyphs">1.5</text>
<line x1="179.2" y1="310.8" x2="180.7" y2="310.8" stroke="#222" stroke-width="0.9"/>
<text x="178.79999999999998" y="312.3" font-size="4.2" font-weight="bold" text-anchor="end" textLength="5.0" lengthAdjust="spacingAndGlyphs">2.0</text>
<line x1="179.2" y1="295.7" x2="180.7" y2="295.7" stroke="#222" stroke-width="0.9"/>
<text x="178.79999999999998" y="297.2" font-size="4.2" font-weight="bold" text-anchor="end" textLength="5.0" lengthAdjust="spacingAndGlyphs">2.5</text>
<line x1="180.7" y1="371.2" x2="316.1" y2="371.2" stroke="#111" stroke-width="1.1"/>
<line x1="188.7" y1="371.2" x2="188.7" y2="372.7" stroke="#222" stroke-width="0.8"/>
<text x="188.7" y="376.8" font-size="3.8" font-weight="bold" text-anchor="middle">4</text>
<line x1="203.7" y1="371.2" x2="203.7" y2="372.7" stroke="#222" stroke-width="0.8"/>
<text x="203.7" y="376.8" font-size="3.8" font-weight="bold" text-anchor="middle">8</text>
<line x1="218.8" y1="371.2" x2="218.8" y2="372.7" stroke="#222" stroke-width="0.8"/>
<text x="218.8" y="376.8" font-size="3.8" font-weight="bold" text-anchor="middle">12</text>
<line x1="234.0" y1="371.2" x2="234.0" y2="372.7" stroke="#222" stroke-width="0.8"/>
<text x="234.0" y="376.8" font-size="3.8" font-weight="bold" text-anchor="middle">16</text>
<line x1="248.7" y1="371.2" x2="248.7" y2="372.7" stroke="#222" stroke-width="0.8"/>
<text x="248.7" y="376.8" font-size="3.8" font-weight="bold" text-anchor="middle">20</text>
<line x1="263.9" y1="371.2" x2="263.9" y2="372.7" stroke="#222" stroke-width="0.8"/>
<text x="263.9" y="376.8" font-size="3.8" font-weight="bold" text-anchor="middle">24</text>
<line x1="278.9" y1="371.2" x2="278.9" y2="372.7" stroke="#222" stroke-width="0.8"/>
<text x="278.9" y="376.8" font-size="3.8" font-weight="bold" text-anchor="middle">28</text>
<line x1="294.0" y1="371.2" x2="294.0" y2="372.7" stroke="#222" stroke-width="0.8"/>
<text x="294.0" y="376.8" font-size="3.8" font-weight="bold" text-anchor="middle">32</text>
<line x1="309.2" y1="371.2" x2="309.2" y2="372.7" stroke="#222" stroke-width="0.8"/>
<text x="309.2" y="376.8" font-size="3.8" font-weight="bold" text-anchor="middle">36</text>
<text x="166.9" y="340.7" font-size="4.5" font-weight="bold" text-anchor="middle" textLength="30.7" lengthAdjust="spacingAndGlyphs" transform="rotate(-90 166.9 340.7)">RBC (x10^6/mL)</text>
<line x1="188" y1="356.3" x2="314.4" y2="356.3" stroke="#111" stroke-width="0.9" stroke-dasharray="2,1.4"/>
<polyline points="188.70,371.20 203.70,371.20 218.80,368.80 234.00,355.50 248.70,350.90 263.90,331.20 278.90,319.40 294.00,349.70 309.20,339.30" fill="none" stroke="#d24f4f" stroke-width="0.95" stroke-linejoin="round"/>
<polyline points="234.00,371.20 248.70,362.30 263.90,354.00 278.90,335.80 294.00,347.10 309.20,342.80" fill="none" stroke="#3a4c9e" stroke-width="0.95" stroke-linejoin="round"/>
<line x1="218.8" y1="364.6" x2="218.8" y2="371" stroke="#161616" stroke-width="0.8"/>
<line x1="217.3" y1="364.6" x2="220.3" y2="364.6" stroke="#161616" stroke-width="0.8"/>
<line x1="217.3" y1="371" x2="220.3" y2="371" stroke="#161616" stroke-width="0.8"/>
<line x1="248.7" y1="339.3" x2="248.7" y2="362.3" stroke="#161616" stroke-width="0.8"/>
<line x1="247.2" y1="339.3" x2="250.2" y2="339.3" stroke="#161616" stroke-width="0.8"/>
<line x1="247.2" y1="362.3" x2="250.2" y2="362.3" stroke="#161616" stroke-width="0.8"/>
<line x1="263.9" y1="322.5" x2="263.9" y2="340.2" stroke="#161616" stroke-width="0.8"/>
<line x1="262.4" y1="322.5" x2="265.4" y2="322.5" stroke="#161616" stroke-width="0.8"/>
<line x1="262.4" y1="340.2" x2="265.4" y2="340.2" stroke="#161616" stroke-width="0.8"/>
<line x1="278.9" y1="301.2" x2="278.9" y2="344.5" stroke="#161616" stroke-width="0.8"/>
<line x1="277.4" y1="301.2" x2="280.4" y2="301.2" stroke="#161616" stroke-width="0.8"/>
<line x1="277.4" y1="344.5" x2="280.4" y2="344.5" stroke="#161616" stroke-width="0.8"/>
<line x1="294.0" y1="336.7" x2="294.0" y2="362.3" stroke="#161616" stroke-width="0.8"/>
<line x1="292.5" y1="336.7" x2="295.5" y2="336.7" stroke="#161616" stroke-width="0.8"/>
<line x1="292.5" y1="362.3" x2="295.5" y2="362.3" stroke="#161616" stroke-width="0.8"/>
<line x1="309.2" y1="330.7" x2="309.2" y2="353.1" stroke="#161616" stroke-width="0.8"/>
<line x1="307.7" y1="330.7" x2="310.7" y2="330.7" stroke="#161616" stroke-width="0.8"/>
<line x1="307.7" y1="353.1" x2="310.7" y2="353.1" stroke="#161616" stroke-width="0.8"/>
<circle cx="188.70" cy="371.20" r="1.2" fill="#111"/>
<circle cx="203.70" cy="371.20" r="1.2" fill="#111"/>
<circle cx="218.80" cy="368.80" r="1.2" fill="#111"/>
<circle cx="234.00" cy="355.50" r="1.2" fill="#111"/>
<circle cx="248.70" cy="350.90" r="1.2" fill="#111"/>
<circle cx="263.90" cy="331.20" r="1.2" fill="#111"/>
<circle cx="278.90" cy="319.40" r="1.2" fill="#111"/>
<circle cx="294.00" cy="349.70" r="1.2" fill="#111"/>
<circle cx="309.20" cy="339.30" r="1.2" fill="#111"/>
<circle cx="234.00" cy="371.20" r="1.1" fill="#111"/>
<circle cx="248.70" cy="362.30" r="1.1" fill="#111"/>
<circle cx="263.90" cy="354.00" r="1.1" fill="#111"/>
<circle cx="278.90" cy="335.80" r="1.1" fill="#111"/>
<circle cx="294.00" cy="347.10" r="1.1" fill="#111"/>
<circle cx="309.20" cy="342.80" r="1.1" fill="#111"/>
<circle cx="234.00" cy="346.00" r="1.25" fill="#111"/>
<circle cx="261.90" cy="317.70" r="0.95" fill="#111"/>
<circle cx="263.90" cy="317.70" r="0.95" fill="#111"/>
<circle cx="265.90" cy="317.70" r="0.95" fill="#111"/>
<circle cx="278.90" cy="297.80" r="1.25" fill="#111"/>
<text x="247.2" y="334.0" font-size="3.8" font-weight="bold" text-anchor="middle" textLength="11" lengthAdjust="spacingAndGlyphs">p&gt;0.05</text>
<text x="318.7" y="342.6" font-size="4.6" font-weight="bold" textLength="10.0" lengthAdjust="spacingAndGlyphs">100%</text>
<text x="318.7" y="358.2" font-size="4.6" font-weight="bold" textLength="7.8" lengthAdjust="spacingAndGlyphs">50%</text>
<text x="243.1" y="391.6" font-size="5.6" font-weight="bold" textLength="28.9" lengthAdjust="spacingAndGlyphs">Time (days)</text>
<line x1="186.3" y1="298" x2="191.7" y2="298" stroke="#333" stroke-width="0.8"/>
<circle cx="189.00" cy="298.00" r="1.05" fill="#111"/>
<line x1="186.3" y1="304.2" x2="191.7" y2="304.2" stroke="#d24f4f" stroke-width="0.8"/>
<circle cx="189.00" cy="304.20" r="1.05" fill="#111"/>
<text x="195.4" y="299.6" font-size="4.3" font-weight="bold" textLength="10.5" lengthAdjust="spacingAndGlyphs">G-CSF</text>
<text x="195.4" y="305.8" font-size="4.3" font-weight="bold" textLength="32.3" lengthAdjust="spacingAndGlyphs">G-CSF + Heparin</text>
<text x="358.25" y="283.4" font-size="16" font-weight="bold" textLength="8.7" lengthAdjust="spacingAndGlyphs" stroke="#000" stroke-width="0.5" fill="#000">H</text>
<rect x="429.70" y="295.50" width="20.30" height="98.00" fill="#ebebeb"/>
<line x1="380.7" y1="294.8" x2="380.7" y2="389.8" stroke="#111" stroke-width="1.1"/>
<line x1="379.2" y1="389.24" x2="380.7" y2="389.24" stroke="#222" stroke-width="0.9"/>
<text x="378.8" y="390.74" font-size="4.2" font-weight="bold" text-anchor="end" textLength="7.4" lengthAdjust="spacingAndGlyphs">-200</text>
<line x1="379.2" y1="373.5" x2="380.7" y2="373.5" stroke="#222" stroke-width="0.9"/>
<text x="378.8" y="375.0" font-size="4.2" font-weight="bold" text-anchor="end" textLength="2.2" lengthAdjust="spacingAndGlyphs">0</text>
<line x1="379.2" y1="357.76" x2="380.7" y2="357.76" stroke="#222" stroke-width="0.9"/>
<text x="378.8" y="359.26" font-size="4.2" font-weight="bold" text-anchor="end" textLength="5.6" lengthAdjust="spacingAndGlyphs">200</text>
<line x1="379.2" y1="342.02" x2="380.7" y2="342.02" stroke="#222" stroke-width="0.9"/>
<text x="378.8" y="343.52" font-size="4.2" font-weight="bold" text-anchor="end" textLength="5.6" lengthAdjust="spacingAndGlyphs">400</text>
<line x1="379.2" y1="326.28" x2="380.7" y2="326.28" stroke="#222" stroke-width="0.9"/>
<text x="378.8" y="327.78" font-size="4.2" font-weight="bold" text-anchor="end" textLength="5.6" lengthAdjust="spacingAndGlyphs">600</text>
<line x1="379.2" y1="310.53999999999996" x2="380.7" y2="310.53999999999996" stroke="#222" stroke-width="0.9"/>
<text x="378.8" y="312.03999999999996" font-size="4.2" font-weight="bold" text-anchor="end" textLength="5.6" lengthAdjust="spacingAndGlyphs">800</text>
<line x1="379.2" y1="294.8" x2="380.7" y2="294.8" stroke="#222" stroke-width="0.9"/>
<text x="378.8" y="296.3" font-size="4.2" font-weight="bold" text-anchor="end" textLength="7.6" lengthAdjust="spacingAndGlyphs">1000</text>
<line x1="380.7" y1="373.5" x2="488.5" y2="373.5" stroke="#111" stroke-width="1.1"/>
<line x1="387.0" y1="373.5" x2="387.0" y2="375.0" stroke="#222" stroke-width="0.8"/>
<text x="387.0" y="379.0" font-size="3.8" font-weight="bold" text-anchor="middle">4</text>
<line x1="399.1" y1="373.5" x2="399.1" y2="375.0" stroke="#222" stroke-width="0.8"/>
<text x="399.1" y="379.0" font-size="3.8" font-weight="bold" text-anchor="middle">8</text>
<line x1="410.7" y1="373.5" x2="410.7" y2="375.0" stroke="#222" stroke-width="0.8"/>
<text x="410.7" y="379.0" font-size="3.8" font-weight="bold" text-anchor="middle">12</text>
<line x1="422.4" y1="373.5" x2="422.4" y2="375.0" stroke="#222" stroke-width="0.8"/>
<text x="422.4" y="379.0" font-size="3.8" font-weight="bold" text-anchor="middle">16</text>
<line x1="434.4" y1="373.5" x2="434.4" y2="375.0" stroke="#222" stroke-width="0.8"/>
<text x="434.4" y="379.0" font-size="3.8" font-weight="bold" text-anchor="middle">20</text>
<line x1="446.7" y1="373.5" x2="446.7" y2="375.0" stroke="#222" stroke-width="0.8"/>
<text x="446.7" y="379.0" font-size="3.8" font-weight="bold" text-anchor="middle">24</text>
<line x1="458.4" y1="373.5" x2="458.4" y2="375.0" stroke="#222" stroke-width="0.8"/>
<text x="458.4" y="379.0" font-size="3.8" font-weight="bold" text-anchor="middle">28</text>
<line x1="470.5" y1="373.5" x2="470.5" y2="375.0" stroke="#222" stroke-width="0.8"/>
<text x="470.5" y="379.0" font-size="3.8" font-weight="bold" text-anchor="middle">32</text>
<line x1="482.3" y1="373.5" x2="482.3" y2="375.0" stroke="#222" stroke-width="0.8"/>
<text x="482.3" y="379.0" font-size="3.8" font-weight="bold" text-anchor="middle">36</text>
<text x="365.2" y="341.3" font-size="4.5" font-weight="bold" text-anchor="middle" textLength="30.7" lengthAdjust="spacingAndGlyphs" transform="rotate(-90 365.2 341.3)">PLT (x10^6/mL)</text>
<line x1="387" y1="356.7" x2="482.3" y2="356.7" stroke="#111" stroke-width="0.9" stroke-dasharray="2,1.4"/>
<polyline points="387.00,347.60 399.10,373.30 410.70,371.00 422.40,366.60" fill="none" stroke="#d24f4f" stroke-width="0.95" stroke-linejoin="round"/>
<path d="M422.40,366.60 C424.40,364.73 430.35,358.30 434.40,355.40 C438.45,352.50 442.70,350.48 446.70,349.20 C450.70,347.92 454.43,347.52 458.40,347.70 C462.37,347.88 466.52,351.67 470.50,350.30 C474.48,348.93 480.33,341.30 482.30,339.50" fill="none" stroke="#d24f4f" stroke-width="0.95"/>
<polyline points="387.00,355.40 399.10,373.30 410.70,373.30 422.40,371.80" fill="none" stroke="#3a4c9e" stroke-width="0.95" stroke-linejoin="round"/>
<path d="M422.40,371.80 C424.40,370.85 430.35,367.82 434.40,366.10 C438.45,364.38 442.70,363.28 446.70,361.50 C450.70,359.72 454.43,357.88 458.40,355.40 C462.37,352.92 466.52,349.25 470.50,346.60 C474.48,343.95 480.33,340.68 482.30,339.50" fill="none" stroke="#3a4c9e" stroke-width="0.95"/>
<line x1="387.0" y1="340.8" x2="387.0" y2="361.5" stroke="#161616" stroke-width="0.8"/>
<line x1="385.5" y1="340.8" x2="388.5" y2="340.8" stroke="#161616" stroke-width="0.8"/>
<line x1="385.5" y1="361.5" x2="388.5" y2="361.5" stroke="#161616" stroke-width="0.8"/>
<line x1="387.0" y1="334.3" x2="387.0" y2="370.6" stroke="#161616" stroke-width="0.8"/>
<line x1="385.5" y1="334.3" x2="388.5" y2="334.3" stroke="#161616" stroke-width="0.8"/>
<line x1="385.5" y1="370.6" x2="388.5" y2="370.6" stroke="#161616" stroke-width="0.8"/>
<line x1="410.7" y1="370.0" x2="410.7" y2="373.3" stroke="#161616" stroke-width="0.8"/>
<line x1="409.2" y1="370.0" x2="412.2" y2="370.0" stroke="#161616" stroke-width="0.8"/>
<line x1="409.2" y1="373.3" x2="412.2" y2="373.3" stroke="#161616" stroke-width="0.8"/>
<line x1="422.4" y1="365.7" x2="422.4" y2="373.3" stroke="#161616" stroke-width="0.8"/>
<line x1="420.9" y1="365.7" x2="423.9" y2="365.7" stroke="#161616" stroke-width="0.8"/>
<line x1="420.9" y1="373.3" x2="423.9" y2="373.3" stroke="#161616" stroke-width="0.8"/>
<line x1="434.4" y1="349.3" x2="434.4" y2="360.6" stroke="#161616" stroke-width="0.8"/>
<line x1="432.9" y1="349.3" x2="435.9" y2="349.3" stroke="#161616" stroke-width="0.8"/>
<line x1="432.9" y1="360.6" x2="435.9" y2="360.6" stroke="#161616" stroke-width="0.8"/>
<line x1="446.7" y1="343.3" x2="446.7" y2="356.2" stroke="#161616" stroke-width="0.8"/>
<line x1="445.2" y1="343.3" x2="448.2" y2="343.3" stroke="#161616" stroke-width="0.8"/>
<line x1="445.2" y1="356.2" x2="448.2" y2="356.2" stroke="#161616" stroke-width="0.8"/>
<line x1="458.4" y1="341.5" x2="458.4" y2="352.8" stroke="#161616" stroke-width="0.8"/>
<line x1="456.9" y1="341.5" x2="459.9" y2="341.5" stroke="#161616" stroke-width="0.8"/>
<line x1="456.9" y1="352.8" x2="459.9" y2="352.8" stroke="#161616" stroke-width="0.8"/>
<line x1="470.5" y1="326.6" x2="470.5" y2="365.7" stroke="#161616" stroke-width="0.8"/>
<line x1="469.0" y1="326.6" x2="472.0" y2="326.6" stroke="#161616" stroke-width="0.8"/>
<line x1="469.0" y1="365.7" x2="472.0" y2="365.7" stroke="#161616" stroke-width="0.8"/>
<line x1="482.3" y1="307.7" x2="482.3" y2="370.8" stroke="#161616" stroke-width="0.8"/>
<line x1="480.8" y1="307.7" x2="483.8" y2="307.7" stroke="#161616" stroke-width="0.8"/>
<line x1="480.8" y1="370.8" x2="483.8" y2="370.8" stroke="#161616" stroke-width="0.8"/>
<circle cx="387.00" cy="347.60" r="1.2" fill="#111"/>
<circle cx="399.10" cy="373.30" r="1.2" fill="#111"/>
<circle cx="410.70" cy="371.00" r="1.2" fill="#111"/>
<circle cx="422.40" cy="366.60" r="1.2" fill="#111"/>
<circle cx="434.40" cy="355.40" r="1.2" fill="#111"/>
<circle cx="446.70" cy="349.20" r="1.2" fill="#111"/>
<circle cx="458.40" cy="347.70" r="1.2" fill="#111"/>
<circle cx="470.50" cy="350.30" r="1.2" fill="#111"/>
<circle cx="482.30" cy="339.50" r="1.2" fill="#111"/>
<circle cx="387.00" cy="355.40" r="1.1" fill="#111"/>
<circle cx="399.10" cy="373.30" r="1.1" fill="#111"/>
<circle cx="410.70" cy="373.30" r="1.1" fill="#111"/>
<circle cx="422.40" cy="371.80" r="1.1" fill="#111"/>
<circle cx="434.40" cy="366.10" r="1.1" fill="#111"/>
<circle cx="446.70" cy="361.50" r="1.1" fill="#111"/>
<circle cx="458.40" cy="355.40" r="1.1" fill="#111"/>
<circle cx="470.50" cy="346.60" r="1.1" fill="#111"/>
<circle cx="482.30" cy="339.50" r="1.1" fill="#111"/>
<circle cx="434.40" cy="341.00" r="1.25" fill="#111"/>
<circle cx="446.70" cy="334.00" r="1.25" fill="#111"/>
<text x="490.0" y="341.0" font-size="4.6" font-weight="bold" textLength="10.8" lengthAdjust="spacingAndGlyphs">100%</text>
<text x="490.0" y="358.2" font-size="4.6" font-weight="bold" textLength="8.0" lengthAdjust="spacingAndGlyphs">50%</text>
<text x="424.0" y="395.0" font-size="5.6" font-weight="bold" textLength="28.7" lengthAdjust="spacingAndGlyphs">Time (days)</text>
<line x1="385.1" y1="301.3" x2="390.4" y2="301.3" stroke="#333" stroke-width="0.8"/>
<circle cx="387.70" cy="301.30" r="1.05" fill="#111"/>
<line x1="385.1" y1="307.4" x2="390.4" y2="307.4" stroke="#d24f4f" stroke-width="0.8"/>
<circle cx="387.70" cy="307.40" r="1.05" fill="#111"/>
<text x="394.5" y="302.9" font-size="4.3" font-weight="bold" textLength="10.5" lengthAdjust="spacingAndGlyphs">G-CSF</text>
<text x="394.5" y="309.0" font-size="4.3" font-weight="bold" textLength="33.5" lengthAdjust="spacingAndGlyphs">G-CSF + Heparin</text>
<rect x="0.00" y="409.00" width="2.70" height="10.80" fill="#000"/>
<line x1="34.6" y1="420.3" x2="34.6" y2="511.5" stroke="#111" stroke-width="1.1"/>
<line x1="34.6" y1="511.5" x2="171.2" y2="511.5" stroke="#111" stroke-width="1.1"/>
<line x1="33.0" y1="511.5" x2="34.6" y2="511.5" stroke="#222" stroke-width="0.9"/>
<text x="32.6" y="513.5" font-size="5.8" font-weight="bold" text-anchor="end" textLength="3.0" lengthAdjust="spacingAndGlyphs">0</text>
<line x1="33.0" y1="496.2" x2="34.6" y2="496.2" stroke="#222" stroke-width="0.9"/>
<text x="32.6" y="498.2" font-size="5.8" font-weight="bold" text-anchor="end" textLength="6.0" lengthAdjust="spacingAndGlyphs">10</text>
<line x1="33.0" y1="480.9" x2="34.6" y2="480.9" stroke="#222" stroke-width="0.9"/>
<text x="32.6" y="482.9" font-size="5.8" font-weight="bold" text-anchor="end" textLength="6.0" lengthAdjust="spacingAndGlyphs">20</text>
<line x1="33.0" y1="465.6" x2="34.6" y2="465.6" stroke="#222" stroke-width="0.9"/>
<text x="32.6" y="467.6" font-size="5.8" font-weight="bold" text-anchor="end" textLength="6.0" lengthAdjust="spacingAndGlyphs">30</text>
<line x1="33.0" y1="450.3" x2="34.6" y2="450.3" stroke="#222" stroke-width="0.9"/>
<text x="32.6" y="452.3" font-size="5.8" font-weight="bold" text-anchor="end" textLength="6.0" lengthAdjust="spacingAndGlyphs">40</text>
<line x1="33.0" y1="435.0" x2="34.6" y2="435.0" stroke="#222" stroke-width="0.9"/>
<text x="32.6" y="437.0" font-size="5.8" font-weight="bold" text-anchor="end" textLength="6.0" lengthAdjust="spacingAndGlyphs">50</text>
<line x1="33.0" y1="419.7" x2="34.6" y2="419.7" stroke="#222" stroke-width="0.9"/>
<text x="32.6" y="421.7" font-size="5.8" font-weight="bold" text-anchor="end" textLength="6.0" lengthAdjust="spacingAndGlyphs">60</text>
<line x1="57.2" y1="511.5" x2="57.2" y2="513.1" stroke="#222" stroke-width="0.8"/>
<text x="57.2" y="518.8" font-size="4.6" font-weight="bold" text-anchor="middle">6</text>
<line x1="102.9" y1="511.5" x2="102.9" y2="513.1" stroke="#222" stroke-width="0.8"/>
<text x="102.9" y="518.8" font-size="4.6" font-weight="bold" text-anchor="middle">10</text>
<line x1="148.4" y1="511.5" x2="148.4" y2="513.1" stroke="#222" stroke-width="0.8"/>
<text x="148.4" y="518.8" font-size="4.6" font-weight="bold" text-anchor="middle">16</text>
<text x="106.0" y="529.0" font-size="5.6" font-weight="bold" text-anchor="middle" textLength="31.5" lengthAdjust="spacingAndGlyphs">Time (weeks)</text>
<text x="7.6" y="466.0" font-size="5.4" font-weight="bold" text-anchor="middle" textLength="70" lengthAdjust="spacingAndGlyphs" transform="rotate(-90 7.6 466.0)">Frequency of the donor cell</text>
<text x="15.6" y="466.0" font-size="5.4" font-weight="bold" text-anchor="middle" textLength="51" lengthAdjust="spacingAndGlyphs" transform="rotate(-90 15.6 466.0)">population (CD45.2)</text>
<polyline points="57.20,468.90 102.90,480.80 148.40,484.00" fill="none" stroke="#999" stroke-width="0.9" stroke-linejoin="round"/>
<polyline points="57.20,474.20 102.90,486.70 148.40,492.00" fill="none" stroke="#111" stroke-width="1.1" stroke-linejoin="round"/>
<line x1="57.2" y1="461.5" x2="57.2" y2="484.6" stroke="#161616" stroke-width="0.8"/>
<line x1="55.400000000000006" y1="461.5" x2="59.0" y2="461.5" stroke="#161616" stroke-width="0.8"/>
<line x1="55.400000000000006" y1="484.6" x2="59.0" y2="484.6" stroke="#161616" stroke-width="0.8"/>
<line x1="102.9" y1="470.9" x2="102.9" y2="494.1" stroke="#161616" stroke-width="0.8"/>
<line x1="101.10000000000001" y1="470.9" x2="104.7" y2="470.9" stroke="#161616" stroke-width="0.8"/>
<line x1="101.10000000000001" y1="494.1" x2="104.7" y2="494.1" stroke="#161616" stroke-width="0.8"/>
<line x1="148.4" y1="475.1" x2="148.4" y2="495.6" stroke="#161616" stroke-width="0.8"/>
<line x1="146.6" y1="475.1" x2="150.20000000000002" y2="475.1" stroke="#161616" stroke-width="0.8"/>
<line x1="146.6" y1="495.6" x2="150.20000000000002" y2="495.6" stroke="#161616" stroke-width="0.8"/>
<rect x="55.90" y="472.90" width="2.60" height="2.60" fill="#111"/>
<rect x="101.60" y="485.40" width="2.60" height="2.60" fill="#111"/>
<rect x="147.10" y="490.70" width="2.60" height="2.60" fill="#111"/>
<path d="M55.900000000000006,470.0 L57.2,467.59999999999997 L58.5,470.0 Z" fill="#333"/>
<path d="M101.60000000000001,481.90000000000003 L102.9,479.5 L104.2,481.90000000000003 Z" fill="#333"/>
<path d="M147.1,485.1 L148.4,482.7 L149.70000000000002,485.1 Z" fill="#333"/>
<text x="58.2" y="457.2" font-size="5.0" font-weight="bold" text-anchor="middle" textLength="16.2" lengthAdjust="spacingAndGlyphs">p&gt;0.05</text>
<text x="102.0" y="467.4" font-size="5.0" font-weight="bold" text-anchor="middle" textLength="16.5" lengthAdjust="spacingAndGlyphs">p&gt;0.05</text>
<text x="148.4" y="471.6" font-size="5.0" font-weight="bold" text-anchor="middle" textLength="16" lengthAdjust="spacingAndGlyphs">p&gt;0.05</text>
<line x1="130.9" y1="425.5" x2="140" y2="425.5" stroke="#111" stroke-width="1.0"/>
<rect x="134.20" y="424.20" width="2.60" height="2.60" fill="#111"/>
<line x1="130.9" y1="434" x2="140" y2="434" stroke="#aaa" stroke-width="0.9"/>
<path d="M134.2,435.1 L135.5,432.7 L136.8,435.1 Z" fill="#333"/>
<text x="144.0" y="427.5" font-size="5.6" font-weight="bold" textLength="18.4" lengthAdjust="spacingAndGlyphs">G-CSF</text>
<text x="144.0" y="436.0" font-size="5.6" font-weight="bold" textLength="46" lengthAdjust="spacingAndGlyphs">G-CSF + Heparin</text>
<text x="214.6" y="419.6" font-size="16" font-weight="bold" textLength="7.0" lengthAdjust="spacingAndGlyphs" stroke="#000" stroke-width="0.5" fill="#000">J</text>
<line x1="250.4" y1="418.5" x2="250.4" y2="540.0" stroke="#111" stroke-width="1.1"/>
<line x1="250.4" y1="540.0" x2="317" y2="540.0" stroke="#111" stroke-width="1.1"/>
<line x1="248.8" y1="540.0" x2="250.4" y2="540.0" stroke="#222" stroke-width="0.9"/>
<text x="248.4" y="542.0" font-size="5.8" font-weight="bold" text-anchor="end" textLength="3.0" lengthAdjust="spacingAndGlyphs">0</text>
<line x1="248.8" y1="509.6" x2="250.4" y2="509.6" stroke="#222" stroke-width="0.9"/>
<text x="248.4" y="511.6" font-size="5.8" font-weight="bold" text-anchor="end" textLength="3.0" lengthAdjust="spacingAndGlyphs">2</text>
<line x1="248.8" y1="479.2" x2="250.4" y2="479.2" stroke="#222" stroke-width="0.9"/>
<text x="248.4" y="481.2" font-size="5.8" font-weight="bold" text-anchor="end" textLength="3.0" lengthAdjust="spacingAndGlyphs">4</text>
<line x1="248.8" y1="448.8" x2="250.4" y2="448.8" stroke="#222" stroke-width="0.9"/>
<text x="248.4" y="450.8" font-size="5.8" font-weight="bold" text-anchor="end" textLength="3.0" lengthAdjust="spacingAndGlyphs">6</text>
<line x1="248.8" y1="418.4" x2="250.4" y2="418.4" stroke="#222" stroke-width="0.9"/>
<text x="248.4" y="420.4" font-size="5.8" font-weight="bold" text-anchor="end" textLength="3.0" lengthAdjust="spacingAndGlyphs">8</text>
<line x1="261.15" y1="517.7" x2="261.15" y2="527.4" stroke="#222" stroke-width="1.0"/>
<line x1="258.04999999999995" y1="517.7" x2="264.25" y2="517.7" stroke="#222" stroke-width="1.0"/>
<rect x="253.50" y="527.40" width="15.30" height="12.60" fill="#d6d6d6" stroke="#222" stroke-width="0.9"/>
<line x1="283.25" y1="510.3" x2="283.25" y2="526.2" stroke="#222" stroke-width="1.0"/>
<line x1="279.95" y1="510.3" x2="286.55" y2="510.3" stroke="#222" stroke-width="1.0"/>
<rect x="275.70" y="526.20" width="15.10" height="13.80" fill="#808080" stroke="#222" stroke-width="0.9"/>
<line x1="305.15" y1="453.0" x2="305.15" y2="482.8" stroke="#222" stroke-width="1.0"/>
<line x1="300.95" y1="453.0" x2="309.34999999999997" y2="453.0" stroke="#222" stroke-width="1.0"/>
<rect x="297.70" y="482.80" width="14.90" height="57.20" fill="#4a4a4a" stroke="#222" stroke-width="0.9"/>
<line x1="261.1" y1="433.1" x2="304.4" y2="433.1" stroke="#222" stroke-width="0.9"/>
<line x1="261.1" y1="431.1" x2="261.1" y2="435.1" stroke="#222" stroke-width="0.9"/>
<line x1="304.4" y1="431.1" x2="304.4" y2="435.1" stroke="#222" stroke-width="0.9"/>
<line x1="283.8" y1="447.4" x2="304.6" y2="447.4" stroke="#222" stroke-width="0.9"/>
<line x1="283.8" y1="445.4" x2="283.8" y2="449.4" stroke="#222" stroke-width="0.9"/>
<line x1="304.6" y1="445.4" x2="304.6" y2="449.4" stroke="#222" stroke-width="0.9"/>
<line x1="262.8" y1="503.8" x2="284.3" y2="503.8" stroke="#222" stroke-width="0.9"/>
<line x1="262.8" y1="501.8" x2="262.8" y2="505.8" stroke="#222" stroke-width="0.9"/>
<line x1="284.3" y1="501.8" x2="284.3" y2="505.8" stroke="#222" stroke-width="0.9"/>
<circle cx="283.80" cy="427.20" r="1.25" fill="#111"/>
<circle cx="293.80" cy="442.00" r="1.25" fill="#111"/>
<text x="272.6" y="499.8" font-size="6.0" font-weight="bold" text-anchor="middle" textLength="17.7" lengthAdjust="spacingAndGlyphs">p&gt;0.05</text>
<text x="223.8" y="478.9" font-size="7.8" text-anchor="middle" textLength="73" lengthAdjust="spacingAndGlyphs" transform="rotate(-90 223.8 478.9)" stroke="#111" stroke-width="0.22">Fold change donor cell</text>
<text x="233.4" y="478.2" font-size="7.8" text-anchor="middle" textLength="112.9" lengthAdjust="spacingAndGlyphs" transform="rotate(-90 233.4 478.2)" stroke="#111" stroke-width="0.22">population (CD45.2) PB chimerism</text>
<text x="215.7" y="550.0" font-size="5.8" font-weight="bold" textLength="20.1" lengthAdjust="spacingAndGlyphs">G-CSF</text>
<text x="215.7" y="562.7" font-size="5.8" font-weight="bold" textLength="20.8" lengthAdjust="spacingAndGlyphs">Vehicle</text>
<text x="215.7" y="575.2" font-size="5.8" font-weight="bold" textLength="21.6" lengthAdjust="spacingAndGlyphs">Heparin</text>
<text x="215.7" y="587.4" font-size="5.8" font-weight="bold" textLength="20.0" lengthAdjust="spacingAndGlyphs">Hirudin</text>
<text x="260.7" y="550.4" font-size="6.4" font-weight="bold" text-anchor="middle">+</text>
<text x="282.6" y="550.4" font-size="6.4" font-weight="bold" text-anchor="middle">+</text>
<text x="306.2" y="550.4" font-size="6.4" font-weight="bold" text-anchor="middle">+</text>
<text x="260.7" y="563.1" font-size="6.4" font-weight="bold" text-anchor="middle">+</text>
<line x1="281.6" y1="561.2" x2="283.6" y2="561.2" stroke="#222" stroke-width="0.9"/>
<line x1="305.2" y1="561.2" x2="307.2" y2="561.2" stroke="#222" stroke-width="0.9"/>
<line x1="259.7" y1="573.7" x2="261.7" y2="573.7" stroke="#222" stroke-width="0.9"/>
<line x1="281.6" y1="573.7" x2="283.6" y2="573.7" stroke="#222" stroke-width="0.9"/>
<text x="306.2" y="575.6" font-size="6.4" font-weight="bold" text-anchor="middle">+</text>
<line x1="259.7" y1="585.9" x2="261.7" y2="585.9" stroke="#222" stroke-width="0.9"/>
<text x="282.6" y="587.8" font-size="6.4" font-weight="bold" text-anchor="middle">+</text>
<line x1="305.2" y1="585.9" x2="307.2" y2="585.9" stroke="#222" stroke-width="0.9"/>
<text x="357.75" y="419.3" font-size="16" font-weight="bold" textLength="10.0" lengthAdjust="spacingAndGlyphs" stroke="#000" stroke-width="0.5" fill="#000">K</text>
<line x1="394.4" y1="419.7" x2="394.4" y2="540.8" stroke="#111" stroke-width="1.1"/>
<line x1="394.4" y1="540.8" x2="477.5" y2="540.8" stroke="#111" stroke-width="1.1"/>
<line x1="392.79999999999995" y1="540.8" x2="394.4" y2="540.8" stroke="#222" stroke-width="0.9"/>
<text x="392.4" y="542.8" font-size="5.8" font-weight="bold" text-anchor="end" textLength="8.0" lengthAdjust="spacingAndGlyphs">0.0</text>
<line x1="392.79999999999995" y1="516.4" x2="394.4" y2="516.4" stroke="#222" stroke-width="0.9"/>
<text x="392.4" y="518.4" font-size="5.8" font-weight="bold" text-anchor="end" textLength="8.0" lengthAdjust="spacingAndGlyphs">0.5</text>
<line x1="392.79999999999995" y1="491.99999999999994" x2="394.4" y2="491.99999999999994" stroke="#222" stroke-width="0.9"/>
<text x="392.4" y="493.99999999999994" font-size="5.8" font-weight="bold" text-anchor="end" textLength="8.0" lengthAdjust="spacingAndGlyphs">1.0</text>
<line x1="392.79999999999995" y1="467.59999999999997" x2="394.4" y2="467.59999999999997" stroke="#222" stroke-width="0.9"/>
<text x="392.4" y="469.59999999999997" font-size="5.8" font-weight="bold" text-anchor="end" textLength="8.0" lengthAdjust="spacingAndGlyphs">1.5</text>
<line x1="392.79999999999995" y1="443.19999999999993" x2="394.4" y2="443.19999999999993" stroke="#222" stroke-width="0.9"/>
<text x="392.4" y="445.19999999999993" font-size="5.8" font-weight="bold" text-anchor="end" textLength="8.0" lengthAdjust="spacingAndGlyphs">2.0</text>
<line x1="392.79999999999995" y1="418.79999999999995" x2="394.4" y2="418.79999999999995" stroke="#222" stroke-width="0.9"/>
<text x="392.4" y="420.79999999999995" font-size="5.8" font-weight="bold" text-anchor="end" textLength="8.0" lengthAdjust="spacingAndGlyphs">2.5</text>
<line x1="404.4" y1="476.38399999999996" x2="404.4" y2="491.99999999999994" stroke="#222" stroke-width="0.9"/>
<line x1="401.0" y1="476.38399999999996" x2="407.79999999999995" y2="476.38399999999996" stroke="#222" stroke-width="0.9"/>
<rect x="397.30" y="492.00" width="14.20" height="48.80" fill="#fff" stroke="#222" stroke-width="0.9"/>
<line x1="425.6" y1="507.616" x2="425.6" y2="518.8399999999999" stroke="#222" stroke-width="0.9"/>
<line x1="422.20000000000005" y1="507.616" x2="429.0" y2="507.616" stroke="#222" stroke-width="0.9"/>
<rect x="418.50" y="518.84" width="14.20" height="21.96" fill="#fff" stroke="#222" stroke-width="0.9"/>
<line x1="446.70000000000005" y1="446.616" x2="446.70000000000005" y2="491.99999999999994" stroke="#222" stroke-width="0.9"/>
<line x1="443.30000000000007" y1="446.616" x2="450.1" y2="446.616" stroke="#222" stroke-width="0.9"/>
<rect x="439.60" y="492.00" width="14.20" height="48.80" fill="#000" stroke="#222" stroke-width="0.9"/>
<line x1="467.4" y1="443.19999999999993" x2="467.4" y2="460.768" stroke="#222" stroke-width="0.9"/>
<line x1="464.0" y1="443.19999999999993" x2="470.79999999999995" y2="443.19999999999993" stroke="#222" stroke-width="0.9"/>
<rect x="460.20" y="460.77" width="14.40" height="80.03" fill="#000" stroke="#222" stroke-width="0.9"/>
<line x1="405.0" y1="467.9" x2="426.8" y2="467.9" stroke="#222" stroke-width="0.9"/>
<line x1="405.0" y1="465.9" x2="405.0" y2="469.9" stroke="#222" stroke-width="0.9"/>
<line x1="426.8" y1="465.9" x2="426.8" y2="469.9" stroke="#222" stroke-width="0.9"/>
<line x1="446.3" y1="440.0" x2="467.7" y2="440.0" stroke="#222" stroke-width="0.9"/>
<line x1="446.3" y1="438.0" x2="446.3" y2="442.0" stroke="#222" stroke-width="0.9"/>
<line x1="467.7" y1="438.0" x2="467.7" y2="442.0" stroke="#222" stroke-width="0.9"/>
<circle cx="416.50" cy="462.70" r="1.25" fill="#111"/>
<text x="457.0" y="434.0" font-size="6.0" font-weight="bold" text-anchor="middle" textLength="18.3" lengthAdjust="spacingAndGlyphs">p&gt;0.05</text>
<text x="368.6" y="479.3" font-size="7.8" text-anchor="middle" textLength="74.5" lengthAdjust="spacingAndGlyphs" transform="rotate(-90 368.6 479.3)" stroke="#111" stroke-width="0.22">Fold change donor cell</text>
<text x="377.5" y="473.9" font-size="7.8" text-anchor="middle" textLength="111.9" lengthAdjust="spacingAndGlyphs" transform="rotate(-90 377.5 473.9)" stroke="#111" stroke-width="0.22">population (CD45.2) PB chimerism</text>
<text x="406.8" y="543.7" font-size="6.2" font-weight="bold" text-anchor="end" textLength="38.4" lengthAdjust="spacingAndGlyphs" transform="rotate(-90 406.8 543.7)">Non-Diabetic</text>
<text x="427.4" y="543.7" font-size="6.2" font-weight="bold" text-anchor="end" textLength="23" lengthAdjust="spacingAndGlyphs" transform="rotate(-90 427.4 543.7)">Diabetic</text>
<text x="448.5" y="543.7" font-size="6.2" font-weight="bold" text-anchor="end" textLength="38.4" lengthAdjust="spacingAndGlyphs" transform="rotate(-90 448.5 543.7)">Non-Diabetic</text>
<text x="469.7" y="543.7" font-size="6.2" font-weight="bold" text-anchor="end" textLength="23" lengthAdjust="spacingAndGlyphs" transform="rotate(-90 469.7 543.7)">Diabetic</text>
<rect x="484.40" y="422.70" width="9.60" height="5.20" fill="#fff" stroke="#222" stroke-width="0.9"/>
<rect x="484.40" y="431.20" width="9.60" height="5.70" fill="#000" stroke="#222" stroke-width="0.9"/>
<text x="497.9" y="427.2" font-size="6.2" font-weight="bold" textLength="9.6" lengthAdjust="spacingAndGlyphs">Ctrl</text>
<text x="497.9" y="436.3" font-size="6.2" font-weight="bold" textLength="9.0" lengthAdjust="spacingAndGlyphs">KO</text>
<text x="1.25" y="605.9" font-size="16" font-weight="bold" textLength="7.7" lengthAdjust="spacingAndGlyphs" stroke="#000" stroke-width="0.5" fill="#000">L</text>
<line x1="42.0" y1="604.4" x2="42.0" y2="725.6" stroke="#111" stroke-width="1.1"/>
<line x1="42.0" y1="725.6" x2="110.4" y2="725.6" stroke="#111" stroke-width="1.1"/>
<line x1="40.4" y1="725.6" x2="42.0" y2="725.6" stroke="#222" stroke-width="0.9"/>
<text x="40.0" y="727.6" font-size="5.8" font-weight="bold" text-anchor="end" textLength="3.0" lengthAdjust="spacingAndGlyphs">0</text>
<line x1="40.4" y1="695.2" x2="42.0" y2="695.2" stroke="#222" stroke-width="0.9"/>
<text x="40.0" y="697.2" font-size="5.8" font-weight="bold" text-anchor="end" textLength="6.0" lengthAdjust="spacingAndGlyphs">20</text>
<line x1="40.4" y1="664.8000000000001" x2="42.0" y2="664.8000000000001" stroke="#222" stroke-width="0.9"/>
<text x="40.0" y="666.8000000000001" font-size="5.8" font-weight="bold" text-anchor="end" textLength="6.0" lengthAdjust="spacingAndGlyphs">40</text>
<line x1="40.4" y1="634.4" x2="42.0" y2="634.4" stroke="#222" stroke-width="0.9"/>
<text x="40.0" y="636.4" font-size="5.8" font-weight="bold" text-anchor="end" textLength="6.0" lengthAdjust="spacingAndGlyphs">60</text>
<line x1="40.4" y1="604.0" x2="42.0" y2="604.0" stroke="#222" stroke-width="0.9"/>
<text x="40.0" y="606.0" font-size="5.8" font-weight="bold" text-anchor="end" textLength="6.0" lengthAdjust="spacingAndGlyphs">80</text>
<line x1="59.3" y1="650.36" x2="59.3" y2="659.784" stroke="#222" stroke-width="0.9"/>
<line x1="53.8" y1="650.36" x2="64.8" y2="650.36" stroke="#222" stroke-width="0.9"/>
<rect x="47.60" y="659.78" width="23.40" height="65.82" fill="#d9d9d9" stroke="#222" stroke-width="0.9"/>
<line x1="93.7" y1="623.76" x2="93.7" y2="637.136" stroke="#222" stroke-width="0.9"/>
<line x1="88.2" y1="623.76" x2="99.2" y2="623.76" stroke="#222" stroke-width="0.9"/>
<rect x="82.40" y="637.14" width="22.60" height="88.46" fill="#8c8c8c" stroke="#222" stroke-width="0.9"/>
<line x1="58.6" y1="618.4" x2="93" y2="618.4" stroke="#222" stroke-width="0.9"/>
<line x1="58.6" y1="616.4" x2="58.6" y2="620.4" stroke="#222" stroke-width="0.9"/>
<line x1="93" y1="616.4" x2="93" y2="620.4" stroke="#222" stroke-width="0.9"/>
<circle cx="74.10" cy="614.00" r="1.15" fill="#111"/>
<circle cx="77.10" cy="614.00" r="1.15" fill="#111"/>
<text x="17.4" y="664.3" font-size="6.2" font-weight="bold" text-anchor="middle" textLength="76" lengthAdjust="spacingAndGlyphs" transform="rotate(-90 17.4 664.3)">Frequency of the donor cell</text>
<text x="25.6" y="664.3" font-size="6.2" font-weight="bold" text-anchor="middle" textLength="57.3" lengthAdjust="spacingAndGlyphs" transform="rotate(-90 25.6 664.3)">population (CD45.2)</text>
<text x="12.5" y="735.4" font-size="5.8" font-weight="bold" textLength="20" lengthAdjust="spacingAndGlyphs">G-CSF</text>
<text x="12.5" y="748.8" font-size="5.8" font-weight="bold" textLength="24.5" lengthAdjust="spacingAndGlyphs">Heparin</text>
<text x="59.6" y="735.6" font-size="6.0" font-weight="bold" text-anchor="middle">+</text>
<text x="59.6" y="748.9" font-size="6.0" font-weight="bold" text-anchor="middle">+</text>
<text x="94.6" y="735.6" font-size="6.0" font-weight="bold" text-anchor="middle">+</text>
<text x="94.6" y="748.9" font-size="6.0" font-weight="bold" text-anchor="middle">+</text>
<rect x="125.60" y="607.10" width="10.00" height="5.20" fill="#d9d9d9" stroke="#222" stroke-width="0.9"/>
<rect x="125.60" y="616.10" width="10.00" height="5.70" fill="#8c8c8c" stroke="#222" stroke-width="0.9"/>
<text x="139.8" y="612.6" font-size="6.6" font-weight="bold" textLength="36.8" lengthAdjust="spacingAndGlyphs">Non-Diabetic</text>
<text x="139.8" y="621.6" font-size="6.6" font-weight="bold" textLength="23.0" lengthAdjust="spacingAndGlyphs">Diabetic</text>
</svg></body></html>
